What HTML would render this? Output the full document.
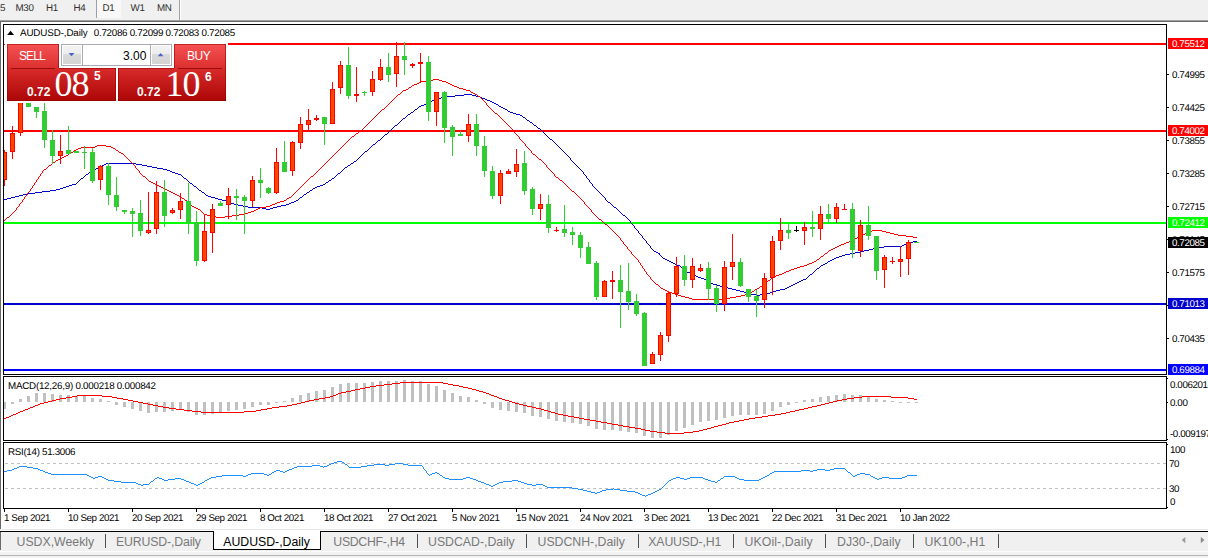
<!DOCTYPE html><html><head><meta charset="utf-8"><title>AUDUSD-,Daily</title><style>
html,body{margin:0;padding:0;}
body{width:1208px;height:558px;overflow:hidden;background:#f0f0f0;position:relative;font-family:"Liberation Sans",sans-serif;}
.t{position:absolute;white-space:nowrap;line-height:1;color:#000;}
.s{font-size:9.8px;letter-spacing:-0.4px;text-rendering:geometricPrecision;}
.tb{font-size:9.8px;letter-spacing:-0.3px;color:#303030;top:4.4px;text-rendering:geometricPrecision;}
.tab{font-size:12.3px;color:#787878;top:535.8px;}
.lab{position:absolute;left:1168px;width:40px;height:11px;color:#fff;font-size:9.8px;letter-spacing:-0.4px;text-rendering:geometricPrecision;line-height:11px;white-space:nowrap;overflow:hidden;}
.lab span{display:inline-block;margin-left:4px;position:relative;top:1px;}
.ax{left:1172px;}
</style></head><body>
<div style="position:absolute;left:97px;top:0;width:24px;height:18px;background:#f8f8f8"></div>
<div style="position:absolute;left:96px;top:0;width:1px;height:18px;background:#a0a0a0"></div>
<div style="position:absolute;left:179px;top:0;width:1px;height:20px;background:#a0a0a0"></div>
<div style="position:absolute;left:180px;top:0;width:1px;height:20px;background:#ffffff"></div>
<div class="t tb" style="left:0px">5</div>
<div class="t tb" style="left:15.5px">M30</div>
<div class="t tb" style="left:46px">H1</div>
<div class="t tb" style="left:73.5px">H4</div>
<div class="t tb" style="left:102.5px">D1</div>
<div class="t tb" style="left:130.5px">W1</div>
<div class="t tb" style="left:157px">MN</div>
<svg width="1208" height="558" viewBox="0 0 1208 558" style="position:absolute;left:0;top:0" shape-rendering="crispEdges">
<rect x="0" y="22" width="1208" height="508" fill="#ffffff" />
<rect x="0" y="20" width="1208" height="1" fill="#a0a0a0" />
<rect x="0" y="21" width="1208" height="1" fill="#696969" />
<rect x="0" y="22" width="1" height="507" fill="#696969" />
<rect x="4" y="43" width="1162" height="2" fill="#ff0000" />
<rect x="4" y="130" width="1162" height="2" fill="#ff0000" />
<rect x="4" y="222" width="1162" height="2" fill="#00ff00" />
<rect x="4" y="303" width="1162" height="2" fill="#0000cd" />
<rect x="4" y="369" width="1162" height="2" fill="#0000ff" />
<rect x="4" y="199" width="3" height="1" fill="#0000cd" />
<rect x="7" y="198" width="4" height="1" fill="#0000cd" />
<rect x="11" y="197" width="4" height="1" fill="#0000cd" />
<rect x="15" y="196" width="4" height="1" fill="#0000cd" />
<rect x="19" y="195" width="4" height="1" fill="#0000cd" />
<rect x="23" y="194" width="4" height="1" fill="#0000cd" />
<rect x="27" y="193" width="8" height="1" fill="#0000cd" />
<rect x="35" y="192" width="7" height="1" fill="#0000cd" />
<rect x="42" y="191" width="8" height="1" fill="#0000cd" />
<rect x="50" y="190" width="6" height="1" fill="#0000cd" />
<rect x="56" y="189" width="4" height="1" fill="#0000cd" />
<rect x="60" y="188" width="3" height="1" fill="#0000cd" />
<rect x="63" y="187" width="3" height="1" fill="#0000cd" />
<rect x="66" y="186" width="3" height="1" fill="#0000cd" />
<rect x="69" y="185" width="3" height="1" fill="#0000cd" />
<rect x="72" y="184" width="4" height="1" fill="#0000cd" />
<rect x="76" y="183" width="1" height="1" fill="#0000cd" />
<rect x="77" y="182" width="1" height="1" fill="#0000cd" />
<rect x="78" y="181" width="1" height="1" fill="#0000cd" />
<rect x="79" y="180" width="1" height="1" fill="#0000cd" />
<rect x="80" y="179" width="1" height="1" fill="#0000cd" />
<rect x="81" y="178" width="2" height="1" fill="#0000cd" />
<rect x="83" y="177" width="1" height="1" fill="#0000cd" />
<rect x="84" y="176" width="1" height="1" fill="#0000cd" />
<rect x="85" y="175" width="1" height="1" fill="#0000cd" />
<rect x="86" y="174" width="2" height="1" fill="#0000cd" />
<rect x="88" y="173" width="1" height="1" fill="#0000cd" />
<rect x="89" y="172" width="2" height="1" fill="#0000cd" />
<rect x="91" y="171" width="2" height="1" fill="#0000cd" />
<rect x="93" y="170" width="1" height="1" fill="#0000cd" />
<rect x="94" y="169" width="2" height="1" fill="#0000cd" />
<rect x="96" y="168" width="2" height="1" fill="#0000cd" />
<rect x="98" y="167" width="2" height="1" fill="#0000cd" />
<rect x="100" y="166" width="2" height="1" fill="#0000cd" />
<rect x="102" y="165" width="2" height="1" fill="#0000cd" />
<rect x="104" y="164" width="2" height="1" fill="#0000cd" />
<rect x="106" y="163" width="30" height="1" fill="#0000cd" />
<rect x="136" y="164" width="6" height="1" fill="#0000cd" />
<rect x="142" y="165" width="5" height="1" fill="#0000cd" />
<rect x="147" y="166" width="5" height="1" fill="#0000cd" />
<rect x="152" y="167" width="5" height="1" fill="#0000cd" />
<rect x="157" y="168" width="6" height="1" fill="#0000cd" />
<rect x="163" y="169" width="4" height="1" fill="#0000cd" />
<rect x="167" y="170" width="3" height="1" fill="#0000cd" />
<rect x="170" y="171" width="2" height="1" fill="#0000cd" />
<rect x="172" y="172" width="3" height="1" fill="#0000cd" />
<rect x="175" y="173" width="3" height="1" fill="#0000cd" />
<rect x="178" y="174" width="3" height="1" fill="#0000cd" />
<rect x="181" y="175" width="1" height="1" fill="#0000cd" />
<rect x="182" y="176" width="1" height="1" fill="#0000cd" />
<rect x="183" y="177" width="1" height="1" fill="#0000cd" />
<rect x="184" y="178" width="2" height="1" fill="#0000cd" />
<rect x="186" y="179" width="1" height="1" fill="#0000cd" />
<rect x="187" y="180" width="1" height="1" fill="#0000cd" />
<rect x="188" y="181" width="1" height="1" fill="#0000cd" />
<rect x="189" y="182" width="1" height="1" fill="#0000cd" />
<rect x="190" y="183" width="2" height="1" fill="#0000cd" />
<rect x="192" y="184" width="1" height="1" fill="#0000cd" />
<rect x="193" y="185" width="1" height="1" fill="#0000cd" />
<rect x="194" y="186" width="2" height="1" fill="#0000cd" />
<rect x="196" y="187" width="1" height="1" fill="#0000cd" />
<rect x="197" y="188" width="1" height="1" fill="#0000cd" />
<rect x="198" y="189" width="1" height="1" fill="#0000cd" />
<rect x="199" y="190" width="2" height="1" fill="#0000cd" />
<rect x="201" y="191" width="1" height="1" fill="#0000cd" />
<rect x="202" y="192" width="2" height="1" fill="#0000cd" />
<rect x="204" y="193" width="1" height="1" fill="#0000cd" />
<rect x="205" y="194" width="1" height="1" fill="#0000cd" />
<rect x="206" y="195" width="2" height="1" fill="#0000cd" />
<rect x="208" y="196" width="3" height="1" fill="#0000cd" />
<rect x="211" y="197" width="4" height="1" fill="#0000cd" />
<rect x="215" y="198" width="3" height="1" fill="#0000cd" />
<rect x="218" y="199" width="4" height="1" fill="#0000cd" />
<rect x="222" y="200" width="4" height="1" fill="#0000cd" />
<rect x="226" y="201" width="2" height="1" fill="#0000cd" />
<rect x="228" y="202" width="3" height="1" fill="#0000cd" />
<rect x="231" y="203" width="3" height="1" fill="#0000cd" />
<rect x="234" y="204" width="4" height="1" fill="#0000cd" />
<rect x="238" y="205" width="5" height="1" fill="#0000cd" />
<rect x="243" y="206" width="5" height="1" fill="#0000cd" />
<rect x="248" y="207" width="14" height="1" fill="#0000cd" />
<rect x="262" y="208" width="4" height="1" fill="#0000cd" />
<rect x="266" y="209" width="4" height="1" fill="#0000cd" />
<rect x="270" y="208" width="3" height="1" fill="#0000cd" />
<rect x="273" y="207" width="4" height="1" fill="#0000cd" />
<rect x="277" y="206" width="4" height="1" fill="#0000cd" />
<rect x="281" y="205" width="5" height="1" fill="#0000cd" />
<rect x="286" y="204" width="3" height="1" fill="#0000cd" />
<rect x="289" y="203" width="2" height="1" fill="#0000cd" />
<rect x="291" y="202" width="3" height="1" fill="#0000cd" />
<rect x="294" y="201" width="2" height="1" fill="#0000cd" />
<rect x="296" y="200" width="2" height="1" fill="#0000cd" />
<rect x="298" y="199" width="1" height="1" fill="#0000cd" />
<rect x="299" y="198" width="1" height="1" fill="#0000cd" />
<rect x="300" y="197" width="2" height="1" fill="#0000cd" />
<rect x="302" y="196" width="1" height="1" fill="#0000cd" />
<rect x="303" y="195" width="1" height="1" fill="#0000cd" />
<rect x="304" y="194" width="2" height="1" fill="#0000cd" />
<rect x="306" y="193" width="1" height="1" fill="#0000cd" />
<rect x="307" y="192" width="2" height="1" fill="#0000cd" />
<rect x="309" y="191" width="1" height="1" fill="#0000cd" />
<rect x="310" y="190" width="2" height="1" fill="#0000cd" />
<rect x="312" y="189" width="1" height="1" fill="#0000cd" />
<rect x="313" y="188" width="2" height="1" fill="#0000cd" />
<rect x="315" y="187" width="2" height="1" fill="#0000cd" />
<rect x="317" y="186" width="3" height="1" fill="#0000cd" />
<rect x="320" y="185" width="3" height="1" fill="#0000cd" />
<rect x="323" y="184" width="2" height="1" fill="#0000cd" />
<rect x="325" y="183" width="1" height="1" fill="#0000cd" />
<rect x="326" y="182" width="2" height="1" fill="#0000cd" />
<rect x="328" y="181" width="1" height="1" fill="#0000cd" />
<rect x="329" y="180" width="2" height="1" fill="#0000cd" />
<rect x="331" y="179" width="1" height="1" fill="#0000cd" />
<rect x="332" y="178" width="2" height="1" fill="#0000cd" />
<rect x="334" y="177" width="1" height="1" fill="#0000cd" />
<rect x="335" y="176" width="1" height="1" fill="#0000cd" />
<rect x="336" y="175" width="1" height="1" fill="#0000cd" />
<rect x="337" y="174" width="1" height="1" fill="#0000cd" />
<rect x="338" y="173" width="2" height="1" fill="#0000cd" />
<rect x="340" y="172" width="1" height="1" fill="#0000cd" />
<rect x="341" y="171" width="1" height="1" fill="#0000cd" />
<rect x="342" y="170" width="1" height="1" fill="#0000cd" />
<rect x="343" y="169" width="1" height="1" fill="#0000cd" />
<rect x="344" y="168" width="1" height="1" fill="#0000cd" />
<rect x="345" y="167" width="2" height="1" fill="#0000cd" />
<rect x="347" y="166" width="1" height="1" fill="#0000cd" />
<rect x="348" y="165" width="2" height="1" fill="#0000cd" />
<rect x="350" y="164" width="1" height="1" fill="#0000cd" />
<rect x="351" y="163" width="2" height="1" fill="#0000cd" />
<rect x="353" y="162" width="1" height="1" fill="#0000cd" />
<rect x="354" y="161" width="2" height="1" fill="#0000cd" />
<rect x="356" y="160" width="1" height="1" fill="#0000cd" />
<rect x="357" y="159" width="1" height="1" fill="#0000cd" />
<rect x="358" y="158" width="1" height="1" fill="#0000cd" />
<rect x="359" y="157" width="1" height="1" fill="#0000cd" />
<rect x="360" y="156" width="1" height="1" fill="#0000cd" />
<rect x="361" y="155" width="1" height="1" fill="#0000cd" />
<rect x="362" y="154" width="1" height="1" fill="#0000cd" />
<rect x="363" y="153" width="1" height="1" fill="#0000cd" />
<rect x="364" y="152" width="1" height="1" fill="#0000cd" />
<rect x="365" y="151" width="2" height="1" fill="#0000cd" />
<rect x="367" y="150" width="1" height="1" fill="#0000cd" />
<rect x="368" y="149" width="1" height="1" fill="#0000cd" />
<rect x="369" y="148" width="1" height="1" fill="#0000cd" />
<rect x="370" y="147" width="1" height="1" fill="#0000cd" />
<rect x="371" y="146" width="1" height="1" fill="#0000cd" />
<rect x="372" y="145" width="1" height="1" fill="#0000cd" />
<rect x="373" y="144" width="2" height="1" fill="#0000cd" />
<rect x="375" y="143" width="1" height="1" fill="#0000cd" />
<rect x="376" y="142" width="1" height="1" fill="#0000cd" />
<rect x="377" y="141" width="1" height="1" fill="#0000cd" />
<rect x="378" y="140" width="2" height="1" fill="#0000cd" />
<rect x="380" y="139" width="1" height="1" fill="#0000cd" />
<rect x="381" y="138" width="1" height="1" fill="#0000cd" />
<rect x="382" y="137" width="1" height="1" fill="#0000cd" />
<rect x="383" y="136" width="1" height="1" fill="#0000cd" />
<rect x="384" y="135" width="1" height="1" fill="#0000cd" />
<rect x="385" y="134" width="2" height="1" fill="#0000cd" />
<rect x="387" y="133" width="1" height="1" fill="#0000cd" />
<rect x="388" y="132" width="1" height="1" fill="#0000cd" />
<rect x="389" y="131" width="1" height="1" fill="#0000cd" />
<rect x="390" y="130" width="1" height="1" fill="#0000cd" />
<rect x="391" y="129" width="1" height="1" fill="#0000cd" />
<rect x="392" y="128" width="1" height="1" fill="#0000cd" />
<rect x="393" y="127" width="1" height="1" fill="#0000cd" />
<rect x="394" y="126" width="1" height="1" fill="#0000cd" />
<rect x="395" y="125" width="2" height="1" fill="#0000cd" />
<rect x="397" y="124" width="1" height="1" fill="#0000cd" />
<rect x="398" y="123" width="1" height="1" fill="#0000cd" />
<rect x="399" y="122" width="1" height="1" fill="#0000cd" />
<rect x="400" y="121" width="1" height="1" fill="#0000cd" />
<rect x="401" y="120" width="1" height="1" fill="#0000cd" />
<rect x="402" y="119" width="1" height="1" fill="#0000cd" />
<rect x="403" y="118" width="2" height="1" fill="#0000cd" />
<rect x="405" y="117" width="1" height="1" fill="#0000cd" />
<rect x="406" y="116" width="1" height="1" fill="#0000cd" />
<rect x="407" y="115" width="1" height="1" fill="#0000cd" />
<rect x="408" y="114" width="2" height="1" fill="#0000cd" />
<rect x="410" y="113" width="1" height="1" fill="#0000cd" />
<rect x="411" y="112" width="2" height="1" fill="#0000cd" />
<rect x="413" y="111" width="1" height="1" fill="#0000cd" />
<rect x="414" y="110" width="1" height="1" fill="#0000cd" />
<rect x="415" y="109" width="2" height="1" fill="#0000cd" />
<rect x="417" y="108" width="1" height="1" fill="#0000cd" />
<rect x="418" y="107" width="1" height="1" fill="#0000cd" />
<rect x="419" y="106" width="2" height="1" fill="#0000cd" />
<rect x="421" y="105" width="3" height="1" fill="#0000cd" />
<rect x="424" y="104" width="2" height="1" fill="#0000cd" />
<rect x="426" y="103" width="2" height="1" fill="#0000cd" />
<rect x="428" y="102" width="2" height="1" fill="#0000cd" />
<rect x="430" y="101" width="2" height="1" fill="#0000cd" />
<rect x="432" y="100" width="3" height="1" fill="#0000cd" />
<rect x="435" y="99" width="3" height="1" fill="#0000cd" />
<rect x="438" y="98" width="3" height="1" fill="#0000cd" />
<rect x="441" y="97" width="4" height="1" fill="#0000cd" />
<rect x="445" y="96" width="10" height="1" fill="#0000cd" />
<rect x="455" y="95" width="9" height="1" fill="#0000cd" />
<rect x="464" y="94" width="8" height="1" fill="#0000cd" />
<rect x="472" y="95" width="4" height="1" fill="#0000cd" />
<rect x="476" y="96" width="4" height="1" fill="#0000cd" />
<rect x="480" y="97" width="2" height="1" fill="#0000cd" />
<rect x="482" y="98" width="3" height="1" fill="#0000cd" />
<rect x="485" y="99" width="2" height="1" fill="#0000cd" />
<rect x="487" y="100" width="3" height="1" fill="#0000cd" />
<rect x="490" y="101" width="2" height="1" fill="#0000cd" />
<rect x="492" y="102" width="2" height="1" fill="#0000cd" />
<rect x="494" y="103" width="2" height="1" fill="#0000cd" />
<rect x="496" y="104" width="2" height="1" fill="#0000cd" />
<rect x="498" y="105" width="1" height="1" fill="#0000cd" />
<rect x="499" y="106" width="2" height="1" fill="#0000cd" />
<rect x="501" y="107" width="2" height="1" fill="#0000cd" />
<rect x="503" y="108" width="2" height="1" fill="#0000cd" />
<rect x="505" y="109" width="2" height="1" fill="#0000cd" />
<rect x="507" y="110" width="1" height="1" fill="#0000cd" />
<rect x="508" y="111" width="2" height="1" fill="#0000cd" />
<rect x="510" y="112" width="3" height="1" fill="#0000cd" />
<rect x="513" y="113" width="3" height="1" fill="#0000cd" />
<rect x="516" y="114" width="4" height="1" fill="#0000cd" />
<rect x="520" y="115" width="2" height="1" fill="#0000cd" />
<rect x="522" y="116" width="1" height="1" fill="#0000cd" />
<rect x="523" y="117" width="2" height="1" fill="#0000cd" />
<rect x="525" y="118" width="1" height="1" fill="#0000cd" />
<rect x="526" y="119" width="1" height="1" fill="#0000cd" />
<rect x="527" y="120" width="2" height="1" fill="#0000cd" />
<rect x="529" y="121" width="1" height="1" fill="#0000cd" />
<rect x="530" y="122" width="2" height="1" fill="#0000cd" />
<rect x="532" y="123" width="1" height="1" fill="#0000cd" />
<rect x="533" y="124" width="1" height="1" fill="#0000cd" />
<rect x="534" y="125" width="2" height="1" fill="#0000cd" />
<rect x="536" y="126" width="1" height="1" fill="#0000cd" />
<rect x="537" y="127" width="1" height="1" fill="#0000cd" />
<rect x="538" y="128" width="2" height="1" fill="#0000cd" />
<rect x="540" y="129" width="1" height="1" fill="#0000cd" />
<rect x="541" y="130" width="1" height="1" fill="#0000cd" />
<rect x="542" y="131" width="1" height="1" fill="#0000cd" />
<rect x="543" y="132" width="1" height="1" fill="#0000cd" />
<rect x="544" y="133" width="1" height="1" fill="#0000cd" />
<rect x="545" y="134" width="1" height="1" fill="#0000cd" />
<rect x="546" y="135" width="1" height="1" fill="#0000cd" />
<rect x="547" y="136" width="1" height="1" fill="#0000cd" />
<rect x="548" y="137" width="1" height="1" fill="#0000cd" />
<rect x="549" y="138" width="1" height="1" fill="#0000cd" />
<rect x="550" y="139" width="2" height="1" fill="#0000cd" />
<rect x="552" y="140" width="1" height="1" fill="#0000cd" />
<rect x="553" y="141" width="1" height="1" fill="#0000cd" />
<rect x="554" y="142" width="1" height="1" fill="#0000cd" />
<rect x="555" y="143" width="1" height="1" fill="#0000cd" />
<rect x="556" y="144" width="1" height="1" fill="#0000cd" />
<rect x="557" y="145" width="1" height="1" fill="#0000cd" />
<rect x="558" y="146" width="1" height="1" fill="#0000cd" />
<rect x="559" y="147" width="1" height="1" fill="#0000cd" />
<rect x="560" y="148" width="1" height="1" fill="#0000cd" />
<rect x="561" y="149" width="1" height="1" fill="#0000cd" />
<rect x="562" y="150" width="1" height="1" fill="#0000cd" />
<rect x="563" y="151" width="1" height="1" fill="#0000cd" />
<rect x="564" y="152" width="1" height="1" fill="#0000cd" />
<rect x="565" y="153" width="1" height="1" fill="#0000cd" />
<rect x="566" y="154" width="1" height="1" fill="#0000cd" />
<rect x="567" y="155" width="1" height="1" fill="#0000cd" />
<rect x="568" y="156" width="1" height="1" fill="#0000cd" />
<rect x="569" y="157" width="1" height="1" fill="#0000cd" />
<rect x="570" y="158" width="1" height="1" fill="#0000cd" />
<rect x="570" y="158" width="1" height="2" fill="#0000cd" />
<rect x="571" y="160" width="1" height="1" fill="#0000cd" />
<rect x="571" y="160" width="1" height="1" fill="#0000cd" />
<rect x="572" y="161" width="1" height="1" fill="#0000cd" />
<rect x="573" y="162" width="1" height="1" fill="#0000cd" />
<rect x="574" y="163" width="1" height="1" fill="#0000cd" />
<rect x="575" y="164" width="1" height="1" fill="#0000cd" />
<rect x="576" y="165" width="1" height="1" fill="#0000cd" />
<rect x="577" y="166" width="1" height="1" fill="#0000cd" />
<rect x="578" y="167" width="1" height="1" fill="#0000cd" />
<rect x="579" y="168" width="1" height="1" fill="#0000cd" />
<rect x="580" y="169" width="1" height="1" fill="#0000cd" />
<rect x="581" y="170" width="1" height="1" fill="#0000cd" />
<rect x="582" y="171" width="1" height="1" fill="#0000cd" />
<rect x="583" y="172" width="1" height="1" fill="#0000cd" />
<rect x="583" y="172" width="1" height="2" fill="#0000cd" />
<rect x="584" y="174" width="1" height="1" fill="#0000cd" />
<rect x="584" y="174" width="1" height="1" fill="#0000cd" />
<rect x="585" y="175" width="1" height="1" fill="#0000cd" />
<rect x="586" y="176" width="1" height="1" fill="#0000cd" />
<rect x="586" y="176" width="1" height="2" fill="#0000cd" />
<rect x="587" y="178" width="1" height="1" fill="#0000cd" />
<rect x="587" y="178" width="1" height="1" fill="#0000cd" />
<rect x="588" y="179" width="1" height="1" fill="#0000cd" />
<rect x="589" y="180" width="1" height="1" fill="#0000cd" />
<rect x="589" y="180" width="1" height="2" fill="#0000cd" />
<rect x="590" y="182" width="1" height="1" fill="#0000cd" />
<rect x="590" y="182" width="1" height="1" fill="#0000cd" />
<rect x="591" y="183" width="1" height="1" fill="#0000cd" />
<rect x="592" y="184" width="1" height="1" fill="#0000cd" />
<rect x="592" y="184" width="1" height="2" fill="#0000cd" />
<rect x="593" y="186" width="1" height="1" fill="#0000cd" />
<rect x="593" y="186" width="1" height="1" fill="#0000cd" />
<rect x="594" y="187" width="1" height="1" fill="#0000cd" />
<rect x="595" y="188" width="1" height="1" fill="#0000cd" />
<rect x="596" y="189" width="1" height="1" fill="#0000cd" />
<rect x="597" y="190" width="1" height="1" fill="#0000cd" />
<rect x="598" y="191" width="1" height="1" fill="#0000cd" />
<rect x="599" y="192" width="1" height="1" fill="#0000cd" />
<rect x="600" y="193" width="1" height="1" fill="#0000cd" />
<rect x="601" y="194" width="1" height="1" fill="#0000cd" />
<rect x="602" y="195" width="1" height="1" fill="#0000cd" />
<rect x="603" y="196" width="1" height="1" fill="#0000cd" />
<rect x="604" y="197" width="1" height="1" fill="#0000cd" />
<rect x="605" y="198" width="1" height="1" fill="#0000cd" />
<rect x="605" y="198" width="1" height="2" fill="#0000cd" />
<rect x="606" y="200" width="1" height="1" fill="#0000cd" />
<rect x="606" y="200" width="1" height="1" fill="#0000cd" />
<rect x="607" y="201" width="1" height="1" fill="#0000cd" />
<rect x="608" y="202" width="2" height="1" fill="#0000cd" />
<rect x="610" y="203" width="1" height="1" fill="#0000cd" />
<rect x="611" y="204" width="1" height="1" fill="#0000cd" />
<rect x="612" y="205" width="1" height="1" fill="#0000cd" />
<rect x="613" y="206" width="1" height="1" fill="#0000cd" />
<rect x="614" y="207" width="2" height="1" fill="#0000cd" />
<rect x="616" y="208" width="1" height="1" fill="#0000cd" />
<rect x="617" y="209" width="1" height="1" fill="#0000cd" />
<rect x="618" y="210" width="1" height="1" fill="#0000cd" />
<rect x="619" y="211" width="1" height="1" fill="#0000cd" />
<rect x="620" y="212" width="1" height="1" fill="#0000cd" />
<rect x="621" y="213" width="1" height="1" fill="#0000cd" />
<rect x="622" y="214" width="1" height="1" fill="#0000cd" />
<rect x="623" y="215" width="2" height="1" fill="#0000cd" />
<rect x="625" y="216" width="1" height="1" fill="#0000cd" />
<rect x="626" y="217" width="1" height="1" fill="#0000cd" />
<rect x="627" y="218" width="1" height="1" fill="#0000cd" />
<rect x="628" y="219" width="1" height="1" fill="#0000cd" />
<rect x="629" y="220" width="1" height="1" fill="#0000cd" />
<rect x="630" y="221" width="1" height="1" fill="#0000cd" />
<rect x="630" y="221" width="1" height="2" fill="#0000cd" />
<rect x="631" y="223" width="1" height="1" fill="#0000cd" />
<rect x="631" y="223" width="1" height="1" fill="#0000cd" />
<rect x="632" y="224" width="1" height="1" fill="#0000cd" />
<rect x="633" y="225" width="1" height="1" fill="#0000cd" />
<rect x="634" y="226" width="1" height="1" fill="#0000cd" />
<rect x="634" y="226" width="1" height="2" fill="#0000cd" />
<rect x="635" y="228" width="1" height="1" fill="#0000cd" />
<rect x="635" y="228" width="1" height="1" fill="#0000cd" />
<rect x="636" y="229" width="1" height="1" fill="#0000cd" />
<rect x="637" y="230" width="1" height="1" fill="#0000cd" />
<rect x="638" y="231" width="1" height="1" fill="#0000cd" />
<rect x="638" y="231" width="1" height="2" fill="#0000cd" />
<rect x="639" y="233" width="1" height="1" fill="#0000cd" />
<rect x="639" y="233" width="1" height="1" fill="#0000cd" />
<rect x="640" y="234" width="1" height="1" fill="#0000cd" />
<rect x="641" y="235" width="1" height="1" fill="#0000cd" />
<rect x="642" y="236" width="1" height="1" fill="#0000cd" />
<rect x="642" y="236" width="1" height="2" fill="#0000cd" />
<rect x="643" y="238" width="1" height="1" fill="#0000cd" />
<rect x="643" y="238" width="1" height="1" fill="#0000cd" />
<rect x="644" y="239" width="1" height="1" fill="#0000cd" />
<rect x="645" y="240" width="1" height="1" fill="#0000cd" />
<rect x="646" y="241" width="1" height="1" fill="#0000cd" />
<rect x="646" y="241" width="1" height="2" fill="#0000cd" />
<rect x="647" y="243" width="1" height="1" fill="#0000cd" />
<rect x="647" y="243" width="1" height="1" fill="#0000cd" />
<rect x="648" y="244" width="1" height="1" fill="#0000cd" />
<rect x="649" y="245" width="1" height="1" fill="#0000cd" />
<rect x="650" y="246" width="1" height="1" fill="#0000cd" />
<rect x="650" y="246" width="1" height="2" fill="#0000cd" />
<rect x="651" y="248" width="1" height="1" fill="#0000cd" />
<rect x="651" y="248" width="1" height="1" fill="#0000cd" />
<rect x="652" y="249" width="1" height="1" fill="#0000cd" />
<rect x="653" y="250" width="1" height="1" fill="#0000cd" />
<rect x="654" y="251" width="2" height="1" fill="#0000cd" />
<rect x="656" y="252" width="2" height="1" fill="#0000cd" />
<rect x="658" y="253" width="2" height="1" fill="#0000cd" />
<rect x="659" y="253" width="1" height="2" fill="#0000cd" />
<rect x="660" y="255" width="1" height="1" fill="#0000cd" />
<rect x="660" y="255" width="1" height="1" fill="#0000cd" />
<rect x="661" y="256" width="1" height="1" fill="#0000cd" />
<rect x="662" y="257" width="1" height="1" fill="#0000cd" />
<rect x="663" y="258" width="2" height="1" fill="#0000cd" />
<rect x="665" y="259" width="2" height="1" fill="#0000cd" />
<rect x="667" y="260" width="2" height="1" fill="#0000cd" />
<rect x="669" y="261" width="2" height="1" fill="#0000cd" />
<rect x="671" y="262" width="2" height="1" fill="#0000cd" />
<rect x="673" y="263" width="2" height="1" fill="#0000cd" />
<rect x="675" y="264" width="2" height="1" fill="#0000cd" />
<rect x="677" y="265" width="3" height="1" fill="#0000cd" />
<rect x="680" y="266" width="1" height="1" fill="#0000cd" />
<rect x="681" y="267" width="2" height="1" fill="#0000cd" />
<rect x="683" y="268" width="1" height="1" fill="#0000cd" />
<rect x="684" y="269" width="1" height="1" fill="#0000cd" />
<rect x="685" y="270" width="1" height="1" fill="#0000cd" />
<rect x="686" y="271" width="1" height="1" fill="#0000cd" />
<rect x="687" y="272" width="3" height="1" fill="#0000cd" />
<rect x="690" y="273" width="2" height="1" fill="#0000cd" />
<rect x="692" y="274" width="2" height="1" fill="#0000cd" />
<rect x="694" y="275" width="2" height="1" fill="#0000cd" />
<rect x="696" y="276" width="2" height="1" fill="#0000cd" />
<rect x="698" y="277" width="3" height="1" fill="#0000cd" />
<rect x="701" y="278" width="3" height="1" fill="#0000cd" />
<rect x="704" y="279" width="3" height="1" fill="#0000cd" />
<rect x="707" y="280" width="1" height="1" fill="#0000cd" />
<rect x="708" y="281" width="2" height="1" fill="#0000cd" />
<rect x="710" y="282" width="1" height="1" fill="#0000cd" />
<rect x="711" y="283" width="2" height="1" fill="#0000cd" />
<rect x="713" y="284" width="4" height="1" fill="#0000cd" />
<rect x="717" y="285" width="3" height="1" fill="#0000cd" />
<rect x="720" y="286" width="4" height="1" fill="#0000cd" />
<rect x="724" y="287" width="4" height="1" fill="#0000cd" />
<rect x="728" y="288" width="4" height="1" fill="#0000cd" />
<rect x="732" y="289" width="4" height="1" fill="#0000cd" />
<rect x="736" y="290" width="4" height="1" fill="#0000cd" />
<rect x="740" y="291" width="4" height="1" fill="#0000cd" />
<rect x="744" y="292" width="3" height="1" fill="#0000cd" />
<rect x="747" y="293" width="4" height="1" fill="#0000cd" />
<rect x="751" y="294" width="6" height="1" fill="#0000cd" />
<rect x="757" y="295" width="3" height="1" fill="#0000cd" />
<rect x="760" y="294" width="5" height="1" fill="#0000cd" />
<rect x="765" y="293" width="5" height="1" fill="#0000cd" />
<rect x="770" y="292" width="3" height="1" fill="#0000cd" />
<rect x="773" y="291" width="3" height="1" fill="#0000cd" />
<rect x="776" y="290" width="4" height="1" fill="#0000cd" />
<rect x="780" y="289" width="5" height="1" fill="#0000cd" />
<rect x="785" y="288" width="2" height="1" fill="#0000cd" />
<rect x="787" y="287" width="2" height="1" fill="#0000cd" />
<rect x="789" y="286" width="2" height="1" fill="#0000cd" />
<rect x="791" y="285" width="2" height="1" fill="#0000cd" />
<rect x="793" y="284" width="2" height="1" fill="#0000cd" />
<rect x="795" y="283" width="2" height="1" fill="#0000cd" />
<rect x="797" y="282" width="2" height="1" fill="#0000cd" />
<rect x="799" y="281" width="2" height="1" fill="#0000cd" />
<rect x="801" y="280" width="2" height="1" fill="#0000cd" />
<rect x="803" y="279" width="3" height="1" fill="#0000cd" />
<rect x="806" y="278" width="1" height="1" fill="#0000cd" />
<rect x="807" y="277" width="1" height="1" fill="#0000cd" />
<rect x="808" y="276" width="1" height="1" fill="#0000cd" />
<rect x="809" y="275" width="1" height="1" fill="#0000cd" />
<rect x="810" y="274" width="2" height="1" fill="#0000cd" />
<rect x="812" y="273" width="1" height="1" fill="#0000cd" />
<rect x="813" y="272" width="1" height="1" fill="#0000cd" />
<rect x="814" y="271" width="1" height="1" fill="#0000cd" />
<rect x="815" y="270" width="1" height="1" fill="#0000cd" />
<rect x="816" y="269" width="1" height="1" fill="#0000cd" />
<rect x="817" y="268" width="2" height="1" fill="#0000cd" />
<rect x="819" y="267" width="1" height="1" fill="#0000cd" />
<rect x="820" y="266" width="1" height="1" fill="#0000cd" />
<rect x="821" y="265" width="2" height="1" fill="#0000cd" />
<rect x="823" y="264" width="2" height="1" fill="#0000cd" />
<rect x="825" y="263" width="2" height="1" fill="#0000cd" />
<rect x="827" y="262" width="1" height="1" fill="#0000cd" />
<rect x="828" y="261" width="2" height="1" fill="#0000cd" />
<rect x="830" y="260" width="2" height="1" fill="#0000cd" />
<rect x="832" y="259" width="2" height="1" fill="#0000cd" />
<rect x="834" y="258" width="2" height="1" fill="#0000cd" />
<rect x="836" y="257" width="3" height="1" fill="#0000cd" />
<rect x="839" y="256" width="3" height="1" fill="#0000cd" />
<rect x="842" y="255" width="3" height="1" fill="#0000cd" />
<rect x="845" y="254" width="5" height="1" fill="#0000cd" />
<rect x="850" y="253" width="5" height="1" fill="#0000cd" />
<rect x="855" y="252" width="5" height="1" fill="#0000cd" />
<rect x="860" y="251" width="4" height="1" fill="#0000cd" />
<rect x="864" y="250" width="5" height="1" fill="#0000cd" />
<rect x="869" y="249" width="4" height="1" fill="#0000cd" />
<rect x="873" y="248" width="4" height="1" fill="#0000cd" />
<rect x="877" y="247" width="7" height="1" fill="#0000cd" />
<rect x="884" y="246" width="18" height="1" fill="#0000cd" />
<rect x="902" y="245" width="2" height="1" fill="#0000cd" />
<rect x="904" y="244" width="2" height="1" fill="#0000cd" />
<rect x="906" y="243" width="2" height="1" fill="#0000cd" />
<rect x="908" y="242" width="5" height="1" fill="#0000cd" />
<rect x="913" y="241" width="4" height="1" fill="#0000cd" />
<rect x="4" y="220" width="1" height="1" fill="#ff0000" />
<rect x="5" y="219" width="1" height="1" fill="#ff0000" />
<rect x="6" y="218" width="1" height="1" fill="#ff0000" />
<rect x="7" y="217" width="2" height="1" fill="#ff0000" />
<rect x="9" y="216" width="1" height="1" fill="#ff0000" />
<rect x="10" y="215" width="1" height="1" fill="#ff0000" />
<rect x="11" y="214" width="1" height="1" fill="#ff0000" />
<rect x="12" y="213" width="1" height="1" fill="#ff0000" />
<rect x="13" y="212" width="1" height="1" fill="#ff0000" />
<rect x="14" y="211" width="1" height="1" fill="#ff0000" />
<rect x="15" y="210" width="1" height="1" fill="#ff0000" />
<rect x="15" y="210" width="1" height="1" fill="#ff0000" />
<rect x="16" y="208" width="1" height="2" fill="#ff0000" />
<rect x="16" y="208" width="1" height="1" fill="#ff0000" />
<rect x="17" y="207" width="1" height="1" fill="#ff0000" />
<rect x="18" y="206" width="1" height="1" fill="#ff0000" />
<rect x="18" y="206" width="1" height="1" fill="#ff0000" />
<rect x="19" y="204" width="1" height="2" fill="#ff0000" />
<rect x="19" y="204" width="1" height="1" fill="#ff0000" />
<rect x="20" y="203" width="1" height="1" fill="#ff0000" />
<rect x="21" y="202" width="1" height="1" fill="#ff0000" />
<rect x="21" y="202" width="1" height="1" fill="#ff0000" />
<rect x="22" y="200" width="1" height="2" fill="#ff0000" />
<rect x="22" y="200" width="1" height="1" fill="#ff0000" />
<rect x="23" y="199" width="1" height="1" fill="#ff0000" />
<rect x="23" y="199" width="1" height="1" fill="#ff0000" />
<rect x="24" y="197" width="1" height="2" fill="#ff0000" />
<rect x="24" y="197" width="1" height="1" fill="#ff0000" />
<rect x="25" y="196" width="1" height="1" fill="#ff0000" />
<rect x="26" y="195" width="1" height="1" fill="#ff0000" />
<rect x="26" y="195" width="1" height="1" fill="#ff0000" />
<rect x="27" y="193" width="1" height="2" fill="#ff0000" />
<rect x="27" y="193" width="1" height="1" fill="#ff0000" />
<rect x="28" y="192" width="1" height="1" fill="#ff0000" />
<rect x="29" y="191" width="1" height="1" fill="#ff0000" />
<rect x="29" y="191" width="1" height="1" fill="#ff0000" />
<rect x="30" y="189" width="1" height="2" fill="#ff0000" />
<rect x="30" y="189" width="1" height="1" fill="#ff0000" />
<rect x="31" y="188" width="1" height="1" fill="#ff0000" />
<rect x="31" y="188" width="1" height="1" fill="#ff0000" />
<rect x="32" y="186" width="1" height="2" fill="#ff0000" />
<rect x="32" y="186" width="1" height="1" fill="#ff0000" />
<rect x="33" y="185" width="1" height="1" fill="#ff0000" />
<rect x="33" y="185" width="1" height="1" fill="#ff0000" />
<rect x="34" y="183" width="1" height="2" fill="#ff0000" />
<rect x="34" y="183" width="1" height="1" fill="#ff0000" />
<rect x="35" y="182" width="1" height="1" fill="#ff0000" />
<rect x="35" y="182" width="1" height="1" fill="#ff0000" />
<rect x="36" y="180" width="1" height="2" fill="#ff0000" />
<rect x="36" y="180" width="1" height="1" fill="#ff0000" />
<rect x="37" y="179" width="1" height="1" fill="#ff0000" />
<rect x="37" y="179" width="1" height="1" fill="#ff0000" />
<rect x="38" y="177" width="1" height="2" fill="#ff0000" />
<rect x="38" y="177" width="1" height="1" fill="#ff0000" />
<rect x="39" y="176" width="1" height="1" fill="#ff0000" />
<rect x="39" y="176" width="1" height="1" fill="#ff0000" />
<rect x="40" y="174" width="1" height="2" fill="#ff0000" />
<rect x="40" y="174" width="1" height="1" fill="#ff0000" />
<rect x="41" y="173" width="1" height="1" fill="#ff0000" />
<rect x="41" y="173" width="1" height="1" fill="#ff0000" />
<rect x="42" y="171" width="1" height="2" fill="#ff0000" />
<rect x="42" y="171" width="1" height="1" fill="#ff0000" />
<rect x="43" y="170" width="1" height="1" fill="#ff0000" />
<rect x="44" y="169" width="2" height="1" fill="#ff0000" />
<rect x="46" y="168" width="1" height="1" fill="#ff0000" />
<rect x="47" y="167" width="1" height="1" fill="#ff0000" />
<rect x="48" y="166" width="1" height="1" fill="#ff0000" />
<rect x="49" y="165" width="2" height="1" fill="#ff0000" />
<rect x="51" y="164" width="1" height="1" fill="#ff0000" />
<rect x="52" y="163" width="1" height="1" fill="#ff0000" />
<rect x="53" y="162" width="2" height="1" fill="#ff0000" />
<rect x="55" y="161" width="1" height="1" fill="#ff0000" />
<rect x="56" y="160" width="2" height="1" fill="#ff0000" />
<rect x="58" y="159" width="2" height="1" fill="#ff0000" />
<rect x="60" y="158" width="2" height="1" fill="#ff0000" />
<rect x="62" y="157" width="2" height="1" fill="#ff0000" />
<rect x="64" y="156" width="2" height="1" fill="#ff0000" />
<rect x="66" y="155" width="2" height="1" fill="#ff0000" />
<rect x="68" y="154" width="1" height="1" fill="#ff0000" />
<rect x="69" y="153" width="2" height="1" fill="#ff0000" />
<rect x="71" y="152" width="2" height="1" fill="#ff0000" />
<rect x="73" y="151" width="1" height="1" fill="#ff0000" />
<rect x="74" y="150" width="2" height="1" fill="#ff0000" />
<rect x="76" y="149" width="2" height="1" fill="#ff0000" />
<rect x="78" y="148" width="3" height="1" fill="#ff0000" />
<rect x="81" y="147" width="14" height="1" fill="#ff0000" />
<rect x="95" y="146" width="2" height="1" fill="#ff0000" />
<rect x="97" y="145" width="9" height="1" fill="#ff0000" />
<rect x="106" y="146" width="5" height="1" fill="#ff0000" />
<rect x="111" y="147" width="2" height="1" fill="#ff0000" />
<rect x="113" y="148" width="2" height="1" fill="#ff0000" />
<rect x="115" y="149" width="1" height="1" fill="#ff0000" />
<rect x="116" y="150" width="2" height="1" fill="#ff0000" />
<rect x="118" y="151" width="1" height="1" fill="#ff0000" />
<rect x="119" y="152" width="2" height="1" fill="#ff0000" />
<rect x="121" y="153" width="2" height="1" fill="#ff0000" />
<rect x="123" y="154" width="1" height="1" fill="#ff0000" />
<rect x="124" y="155" width="1" height="1" fill="#ff0000" />
<rect x="125" y="156" width="1" height="1" fill="#ff0000" />
<rect x="126" y="157" width="1" height="1" fill="#ff0000" />
<rect x="127" y="158" width="1" height="1" fill="#ff0000" />
<rect x="128" y="159" width="1" height="1" fill="#ff0000" />
<rect x="129" y="160" width="1" height="1" fill="#ff0000" />
<rect x="130" y="161" width="1" height="1" fill="#ff0000" />
<rect x="131" y="162" width="1" height="1" fill="#ff0000" />
<rect x="132" y="163" width="1" height="1" fill="#ff0000" />
<rect x="133" y="164" width="1" height="1" fill="#ff0000" />
<rect x="134" y="165" width="1" height="1" fill="#ff0000" />
<rect x="135" y="166" width="1" height="1" fill="#ff0000" />
<rect x="135" y="166" width="1" height="2" fill="#ff0000" />
<rect x="136" y="168" width="1" height="1" fill="#ff0000" />
<rect x="136" y="168" width="1" height="1" fill="#ff0000" />
<rect x="137" y="169" width="1" height="1" fill="#ff0000" />
<rect x="138" y="170" width="1" height="1" fill="#ff0000" />
<rect x="139" y="171" width="1" height="1" fill="#ff0000" />
<rect x="139" y="171" width="1" height="2" fill="#ff0000" />
<rect x="140" y="173" width="1" height="1" fill="#ff0000" />
<rect x="140" y="173" width="1" height="1" fill="#ff0000" />
<rect x="141" y="174" width="1" height="1" fill="#ff0000" />
<rect x="142" y="175" width="1" height="1" fill="#ff0000" />
<rect x="143" y="176" width="2" height="1" fill="#ff0000" />
<rect x="145" y="177" width="1" height="1" fill="#ff0000" />
<rect x="146" y="178" width="1" height="1" fill="#ff0000" />
<rect x="147" y="179" width="1" height="1" fill="#ff0000" />
<rect x="148" y="180" width="1" height="1" fill="#ff0000" />
<rect x="149" y="181" width="2" height="1" fill="#ff0000" />
<rect x="151" y="182" width="2" height="1" fill="#ff0000" />
<rect x="153" y="183" width="2" height="1" fill="#ff0000" />
<rect x="155" y="184" width="2" height="1" fill="#ff0000" />
<rect x="157" y="185" width="2" height="1" fill="#ff0000" />
<rect x="159" y="186" width="2" height="1" fill="#ff0000" />
<rect x="161" y="187" width="2" height="1" fill="#ff0000" />
<rect x="163" y="188" width="2" height="1" fill="#ff0000" />
<rect x="165" y="189" width="2" height="1" fill="#ff0000" />
<rect x="167" y="190" width="2" height="1" fill="#ff0000" />
<rect x="169" y="191" width="2" height="1" fill="#ff0000" />
<rect x="171" y="192" width="2" height="1" fill="#ff0000" />
<rect x="173" y="193" width="2" height="1" fill="#ff0000" />
<rect x="175" y="194" width="2" height="1" fill="#ff0000" />
<rect x="177" y="195" width="2" height="1" fill="#ff0000" />
<rect x="179" y="196" width="2" height="1" fill="#ff0000" />
<rect x="181" y="197" width="1" height="1" fill="#ff0000" />
<rect x="182" y="198" width="2" height="1" fill="#ff0000" />
<rect x="184" y="199" width="1" height="1" fill="#ff0000" />
<rect x="185" y="200" width="2" height="1" fill="#ff0000" />
<rect x="187" y="201" width="1" height="1" fill="#ff0000" />
<rect x="188" y="202" width="1" height="1" fill="#ff0000" />
<rect x="189" y="203" width="1" height="1" fill="#ff0000" />
<rect x="190" y="204" width="1" height="1" fill="#ff0000" />
<rect x="191" y="205" width="1" height="1" fill="#ff0000" />
<rect x="192" y="206" width="2" height="1" fill="#ff0000" />
<rect x="194" y="207" width="2" height="1" fill="#ff0000" />
<rect x="196" y="208" width="2" height="1" fill="#ff0000" />
<rect x="198" y="209" width="2" height="1" fill="#ff0000" />
<rect x="200" y="210" width="1" height="1" fill="#ff0000" />
<rect x="201" y="211" width="1" height="1" fill="#ff0000" />
<rect x="202" y="212" width="1" height="1" fill="#ff0000" />
<rect x="203" y="213" width="1" height="1" fill="#ff0000" />
<rect x="204" y="214" width="3" height="1" fill="#ff0000" />
<rect x="207" y="215" width="4" height="1" fill="#ff0000" />
<rect x="211" y="216" width="5" height="1" fill="#ff0000" />
<rect x="216" y="217" width="9" height="1" fill="#ff0000" />
<rect x="225" y="216" width="7" height="1" fill="#ff0000" />
<rect x="232" y="215" width="7" height="1" fill="#ff0000" />
<rect x="239" y="214" width="6" height="1" fill="#ff0000" />
<rect x="245" y="213" width="3" height="1" fill="#ff0000" />
<rect x="248" y="212" width="3" height="1" fill="#ff0000" />
<rect x="251" y="211" width="3" height="1" fill="#ff0000" />
<rect x="254" y="210" width="2" height="1" fill="#ff0000" />
<rect x="256" y="209" width="2" height="1" fill="#ff0000" />
<rect x="258" y="208" width="2" height="1" fill="#ff0000" />
<rect x="260" y="207" width="6" height="1" fill="#ff0000" />
<rect x="266" y="206" width="4" height="1" fill="#ff0000" />
<rect x="270" y="205" width="2" height="1" fill="#ff0000" />
<rect x="272" y="204" width="3" height="1" fill="#ff0000" />
<rect x="275" y="203" width="2" height="1" fill="#ff0000" />
<rect x="277" y="202" width="3" height="1" fill="#ff0000" />
<rect x="280" y="201" width="4" height="1" fill="#ff0000" />
<rect x="284" y="200" width="2" height="1" fill="#ff0000" />
<rect x="286" y="199" width="1" height="1" fill="#ff0000" />
<rect x="287" y="198" width="2" height="1" fill="#ff0000" />
<rect x="289" y="197" width="2" height="1" fill="#ff0000" />
<rect x="291" y="196" width="1" height="1" fill="#ff0000" />
<rect x="292" y="195" width="1" height="1" fill="#ff0000" />
<rect x="293" y="194" width="1" height="1" fill="#ff0000" />
<rect x="294" y="193" width="1" height="1" fill="#ff0000" />
<rect x="295" y="192" width="1" height="1" fill="#ff0000" />
<rect x="296" y="191" width="1" height="1" fill="#ff0000" />
<rect x="297" y="190" width="1" height="1" fill="#ff0000" />
<rect x="298" y="189" width="1" height="1" fill="#ff0000" />
<rect x="299" y="188" width="1" height="1" fill="#ff0000" />
<rect x="300" y="187" width="1" height="1" fill="#ff0000" />
<rect x="301" y="186" width="1" height="1" fill="#ff0000" />
<rect x="302" y="185" width="1" height="1" fill="#ff0000" />
<rect x="303" y="184" width="1" height="1" fill="#ff0000" />
<rect x="304" y="183" width="1" height="1" fill="#ff0000" />
<rect x="305" y="182" width="1" height="1" fill="#ff0000" />
<rect x="306" y="181" width="1" height="1" fill="#ff0000" />
<rect x="307" y="180" width="1" height="1" fill="#ff0000" />
<rect x="308" y="179" width="1" height="1" fill="#ff0000" />
<rect x="309" y="178" width="1" height="1" fill="#ff0000" />
<rect x="310" y="177" width="1" height="1" fill="#ff0000" />
<rect x="311" y="176" width="2" height="1" fill="#ff0000" />
<rect x="313" y="175" width="1" height="1" fill="#ff0000" />
<rect x="314" y="174" width="1" height="1" fill="#ff0000" />
<rect x="315" y="173" width="1" height="1" fill="#ff0000" />
<rect x="316" y="172" width="1" height="1" fill="#ff0000" />
<rect x="317" y="171" width="1" height="1" fill="#ff0000" />
<rect x="318" y="170" width="1" height="1" fill="#ff0000" />
<rect x="319" y="169" width="1" height="1" fill="#ff0000" />
<rect x="320" y="168" width="1" height="1" fill="#ff0000" />
<rect x="321" y="167" width="1" height="1" fill="#ff0000" />
<rect x="322" y="166" width="1" height="1" fill="#ff0000" />
<rect x="323" y="165" width="1" height="1" fill="#ff0000" />
<rect x="324" y="164" width="1" height="1" fill="#ff0000" />
<rect x="325" y="163" width="1" height="1" fill="#ff0000" />
<rect x="326" y="162" width="1" height="1" fill="#ff0000" />
<rect x="327" y="161" width="1" height="1" fill="#ff0000" />
<rect x="328" y="160" width="1" height="1" fill="#ff0000" />
<rect x="329" y="159" width="1" height="1" fill="#ff0000" />
<rect x="330" y="158" width="1" height="1" fill="#ff0000" />
<rect x="331" y="157" width="1" height="1" fill="#ff0000" />
<rect x="332" y="156" width="1" height="1" fill="#ff0000" />
<rect x="333" y="155" width="1" height="1" fill="#ff0000" />
<rect x="334" y="154" width="1" height="1" fill="#ff0000" />
<rect x="335" y="153" width="1" height="1" fill="#ff0000" />
<rect x="336" y="152" width="1" height="1" fill="#ff0000" />
<rect x="337" y="151" width="1" height="1" fill="#ff0000" />
<rect x="338" y="150" width="1" height="1" fill="#ff0000" />
<rect x="339" y="149" width="1" height="1" fill="#ff0000" />
<rect x="340" y="148" width="1" height="1" fill="#ff0000" />
<rect x="341" y="147" width="1" height="1" fill="#ff0000" />
<rect x="342" y="146" width="1" height="1" fill="#ff0000" />
<rect x="343" y="145" width="1" height="1" fill="#ff0000" />
<rect x="344" y="144" width="1" height="1" fill="#ff0000" />
<rect x="345" y="143" width="1" height="1" fill="#ff0000" />
<rect x="346" y="142" width="1" height="1" fill="#ff0000" />
<rect x="347" y="141" width="1" height="1" fill="#ff0000" />
<rect x="348" y="140" width="1" height="1" fill="#ff0000" />
<rect x="349" y="139" width="1" height="1" fill="#ff0000" />
<rect x="350" y="138" width="1" height="1" fill="#ff0000" />
<rect x="351" y="137" width="1" height="1" fill="#ff0000" />
<rect x="352" y="136" width="2" height="1" fill="#ff0000" />
<rect x="354" y="135" width="1" height="1" fill="#ff0000" />
<rect x="355" y="134" width="1" height="1" fill="#ff0000" />
<rect x="356" y="133" width="2" height="1" fill="#ff0000" />
<rect x="358" y="132" width="1" height="1" fill="#ff0000" />
<rect x="359" y="131" width="1" height="1" fill="#ff0000" />
<rect x="360" y="130" width="2" height="1" fill="#ff0000" />
<rect x="362" y="129" width="1" height="1" fill="#ff0000" />
<rect x="363" y="128" width="1" height="1" fill="#ff0000" />
<rect x="364" y="127" width="1" height="1" fill="#ff0000" />
<rect x="365" y="126" width="1" height="1" fill="#ff0000" />
<rect x="366" y="125" width="1" height="1" fill="#ff0000" />
<rect x="367" y="124" width="1" height="1" fill="#ff0000" />
<rect x="368" y="123" width="1" height="1" fill="#ff0000" />
<rect x="369" y="122" width="1" height="1" fill="#ff0000" />
<rect x="370" y="121" width="1" height="1" fill="#ff0000" />
<rect x="371" y="120" width="1" height="1" fill="#ff0000" />
<rect x="372" y="119" width="1" height="1" fill="#ff0000" />
<rect x="373" y="118" width="1" height="1" fill="#ff0000" />
<rect x="374" y="117" width="1" height="1" fill="#ff0000" />
<rect x="375" y="116" width="1" height="1" fill="#ff0000" />
<rect x="376" y="115" width="1" height="1" fill="#ff0000" />
<rect x="377" y="114" width="1" height="1" fill="#ff0000" />
<rect x="378" y="113" width="1" height="1" fill="#ff0000" />
<rect x="379" y="112" width="1" height="1" fill="#ff0000" />
<rect x="380" y="111" width="1" height="1" fill="#ff0000" />
<rect x="381" y="110" width="1" height="1" fill="#ff0000" />
<rect x="382" y="109" width="2" height="1" fill="#ff0000" />
<rect x="384" y="108" width="1" height="1" fill="#ff0000" />
<rect x="385" y="107" width="1" height="1" fill="#ff0000" />
<rect x="386" y="106" width="1" height="1" fill="#ff0000" />
<rect x="387" y="105" width="1" height="1" fill="#ff0000" />
<rect x="388" y="104" width="1" height="1" fill="#ff0000" />
<rect x="389" y="103" width="1" height="1" fill="#ff0000" />
<rect x="390" y="102" width="1" height="1" fill="#ff0000" />
<rect x="391" y="101" width="1" height="1" fill="#ff0000" />
<rect x="392" y="100" width="1" height="1" fill="#ff0000" />
<rect x="393" y="99" width="1" height="1" fill="#ff0000" />
<rect x="394" y="98" width="1" height="1" fill="#ff0000" />
<rect x="395" y="97" width="1" height="1" fill="#ff0000" />
<rect x="396" y="96" width="1" height="1" fill="#ff0000" />
<rect x="397" y="95" width="1" height="1" fill="#ff0000" />
<rect x="398" y="94" width="2" height="1" fill="#ff0000" />
<rect x="400" y="93" width="1" height="1" fill="#ff0000" />
<rect x="401" y="92" width="1" height="1" fill="#ff0000" />
<rect x="402" y="91" width="1" height="1" fill="#ff0000" />
<rect x="403" y="90" width="3" height="1" fill="#ff0000" />
<rect x="406" y="89" width="2" height="1" fill="#ff0000" />
<rect x="408" y="88" width="1" height="1" fill="#ff0000" />
<rect x="409" y="87" width="2" height="1" fill="#ff0000" />
<rect x="411" y="86" width="1" height="1" fill="#ff0000" />
<rect x="412" y="85" width="2" height="1" fill="#ff0000" />
<rect x="414" y="84" width="3" height="1" fill="#ff0000" />
<rect x="417" y="83" width="2" height="1" fill="#ff0000" />
<rect x="419" y="82" width="2" height="1" fill="#ff0000" />
<rect x="421" y="81" width="6" height="1" fill="#ff0000" />
<rect x="427" y="80" width="6" height="1" fill="#ff0000" />
<rect x="433" y="79" width="6" height="1" fill="#ff0000" />
<rect x="439" y="80" width="3" height="1" fill="#ff0000" />
<rect x="442" y="81" width="4" height="1" fill="#ff0000" />
<rect x="446" y="82" width="2" height="1" fill="#ff0000" />
<rect x="448" y="83" width="2" height="1" fill="#ff0000" />
<rect x="450" y="84" width="2" height="1" fill="#ff0000" />
<rect x="452" y="85" width="2" height="1" fill="#ff0000" />
<rect x="454" y="86" width="3" height="1" fill="#ff0000" />
<rect x="457" y="87" width="2" height="1" fill="#ff0000" />
<rect x="459" y="88" width="4" height="1" fill="#ff0000" />
<rect x="463" y="89" width="3" height="1" fill="#ff0000" />
<rect x="466" y="90" width="4" height="1" fill="#ff0000" />
<rect x="470" y="91" width="1" height="1" fill="#ff0000" />
<rect x="471" y="92" width="2" height="1" fill="#ff0000" />
<rect x="473" y="93" width="2" height="1" fill="#ff0000" />
<rect x="475" y="94" width="2" height="1" fill="#ff0000" />
<rect x="477" y="95" width="1" height="1" fill="#ff0000" />
<rect x="478" y="96" width="2" height="1" fill="#ff0000" />
<rect x="480" y="97" width="1" height="1" fill="#ff0000" />
<rect x="481" y="98" width="1" height="1" fill="#ff0000" />
<rect x="482" y="99" width="1" height="1" fill="#ff0000" />
<rect x="483" y="100" width="1" height="1" fill="#ff0000" />
<rect x="484" y="101" width="1" height="1" fill="#ff0000" />
<rect x="485" y="102" width="1" height="1" fill="#ff0000" />
<rect x="486" y="103" width="1" height="1" fill="#ff0000" />
<rect x="486" y="103" width="1" height="2" fill="#ff0000" />
<rect x="487" y="105" width="1" height="1" fill="#ff0000" />
<rect x="487" y="105" width="1" height="1" fill="#ff0000" />
<rect x="488" y="106" width="1" height="1" fill="#ff0000" />
<rect x="489" y="107" width="1" height="1" fill="#ff0000" />
<rect x="490" y="108" width="1" height="1" fill="#ff0000" />
<rect x="491" y="109" width="1" height="1" fill="#ff0000" />
<rect x="492" y="110" width="1" height="1" fill="#ff0000" />
<rect x="493" y="111" width="1" height="1" fill="#ff0000" />
<rect x="494" y="112" width="1" height="1" fill="#ff0000" />
<rect x="495" y="113" width="2" height="1" fill="#ff0000" />
<rect x="497" y="114" width="1" height="1" fill="#ff0000" />
<rect x="498" y="115" width="1" height="1" fill="#ff0000" />
<rect x="499" y="116" width="1" height="1" fill="#ff0000" />
<rect x="500" y="117" width="1" height="1" fill="#ff0000" />
<rect x="501" y="118" width="1" height="1" fill="#ff0000" />
<rect x="502" y="119" width="1" height="1" fill="#ff0000" />
<rect x="503" y="120" width="1" height="1" fill="#ff0000" />
<rect x="504" y="121" width="1" height="1" fill="#ff0000" />
<rect x="505" y="122" width="1" height="1" fill="#ff0000" />
<rect x="506" y="123" width="1" height="1" fill="#ff0000" />
<rect x="507" y="124" width="1" height="1" fill="#ff0000" />
<rect x="508" y="125" width="1" height="1" fill="#ff0000" />
<rect x="509" y="126" width="1" height="1" fill="#ff0000" />
<rect x="510" y="127" width="1" height="1" fill="#ff0000" />
<rect x="511" y="128" width="1" height="1" fill="#ff0000" />
<rect x="512" y="129" width="1" height="1" fill="#ff0000" />
<rect x="513" y="130" width="1" height="1" fill="#ff0000" />
<rect x="513" y="130" width="1" height="2" fill="#ff0000" />
<rect x="514" y="132" width="1" height="1" fill="#ff0000" />
<rect x="514" y="132" width="1" height="1" fill="#ff0000" />
<rect x="515" y="133" width="1" height="1" fill="#ff0000" />
<rect x="516" y="134" width="1" height="1" fill="#ff0000" />
<rect x="517" y="135" width="1" height="1" fill="#ff0000" />
<rect x="518" y="136" width="1" height="1" fill="#ff0000" />
<rect x="519" y="137" width="1" height="1" fill="#ff0000" />
<rect x="519" y="137" width="1" height="2" fill="#ff0000" />
<rect x="520" y="139" width="1" height="1" fill="#ff0000" />
<rect x="520" y="139" width="1" height="1" fill="#ff0000" />
<rect x="521" y="140" width="1" height="1" fill="#ff0000" />
<rect x="522" y="141" width="1" height="1" fill="#ff0000" />
<rect x="523" y="142" width="1" height="1" fill="#ff0000" />
<rect x="524" y="143" width="1" height="1" fill="#ff0000" />
<rect x="525" y="144" width="1" height="1" fill="#ff0000" />
<rect x="525" y="144" width="1" height="2" fill="#ff0000" />
<rect x="526" y="146" width="1" height="1" fill="#ff0000" />
<rect x="526" y="146" width="1" height="1" fill="#ff0000" />
<rect x="527" y="147" width="1" height="1" fill="#ff0000" />
<rect x="528" y="148" width="1" height="1" fill="#ff0000" />
<rect x="529" y="149" width="1" height="1" fill="#ff0000" />
<rect x="530" y="150" width="1" height="1" fill="#ff0000" />
<rect x="531" y="151" width="1" height="1" fill="#ff0000" />
<rect x="531" y="151" width="1" height="2" fill="#ff0000" />
<rect x="532" y="153" width="1" height="1" fill="#ff0000" />
<rect x="532" y="153" width="1" height="1" fill="#ff0000" />
<rect x="533" y="154" width="2" height="1" fill="#ff0000" />
<rect x="535" y="155" width="1" height="1" fill="#ff0000" />
<rect x="536" y="156" width="1" height="1" fill="#ff0000" />
<rect x="537" y="157" width="1" height="1" fill="#ff0000" />
<rect x="538" y="158" width="1" height="1" fill="#ff0000" />
<rect x="539" y="159" width="2" height="1" fill="#ff0000" />
<rect x="541" y="160" width="1" height="1" fill="#ff0000" />
<rect x="542" y="161" width="1" height="1" fill="#ff0000" />
<rect x="543" y="162" width="1" height="1" fill="#ff0000" />
<rect x="544" y="163" width="1" height="1" fill="#ff0000" />
<rect x="545" y="164" width="1" height="1" fill="#ff0000" />
<rect x="546" y="165" width="1" height="1" fill="#ff0000" />
<rect x="546" y="165" width="1" height="2" fill="#ff0000" />
<rect x="547" y="167" width="1" height="1" fill="#ff0000" />
<rect x="547" y="167" width="1" height="1" fill="#ff0000" />
<rect x="548" y="168" width="1" height="1" fill="#ff0000" />
<rect x="549" y="169" width="1" height="1" fill="#ff0000" />
<rect x="550" y="170" width="1" height="1" fill="#ff0000" />
<rect x="551" y="171" width="1" height="1" fill="#ff0000" />
<rect x="552" y="172" width="1" height="1" fill="#ff0000" />
<rect x="553" y="173" width="1" height="1" fill="#ff0000" />
<rect x="554" y="174" width="1" height="1" fill="#ff0000" />
<rect x="554" y="174" width="1" height="2" fill="#ff0000" />
<rect x="555" y="176" width="1" height="1" fill="#ff0000" />
<rect x="555" y="176" width="1" height="1" fill="#ff0000" />
<rect x="556" y="177" width="2" height="1" fill="#ff0000" />
<rect x="558" y="178" width="1" height="1" fill="#ff0000" />
<rect x="559" y="179" width="1" height="1" fill="#ff0000" />
<rect x="560" y="180" width="2" height="1" fill="#ff0000" />
<rect x="562" y="181" width="1" height="1" fill="#ff0000" />
<rect x="563" y="182" width="1" height="1" fill="#ff0000" />
<rect x="564" y="183" width="1" height="1" fill="#ff0000" />
<rect x="565" y="184" width="1" height="1" fill="#ff0000" />
<rect x="566" y="185" width="1" height="1" fill="#ff0000" />
<rect x="567" y="186" width="1" height="1" fill="#ff0000" />
<rect x="568" y="187" width="1" height="1" fill="#ff0000" />
<rect x="569" y="188" width="1" height="1" fill="#ff0000" />
<rect x="570" y="189" width="1" height="1" fill="#ff0000" />
<rect x="571" y="190" width="1" height="1" fill="#ff0000" />
<rect x="572" y="191" width="2" height="1" fill="#ff0000" />
<rect x="574" y="192" width="1" height="1" fill="#ff0000" />
<rect x="575" y="193" width="1" height="1" fill="#ff0000" />
<rect x="576" y="194" width="1" height="1" fill="#ff0000" />
<rect x="577" y="195" width="1" height="1" fill="#ff0000" />
<rect x="578" y="196" width="1" height="1" fill="#ff0000" />
<rect x="579" y="197" width="1" height="1" fill="#ff0000" />
<rect x="580" y="198" width="1" height="1" fill="#ff0000" />
<rect x="581" y="199" width="1" height="1" fill="#ff0000" />
<rect x="582" y="200" width="1" height="1" fill="#ff0000" />
<rect x="583" y="201" width="1" height="1" fill="#ff0000" />
<rect x="584" y="202" width="1" height="1" fill="#ff0000" />
<rect x="584" y="202" width="1" height="2" fill="#ff0000" />
<rect x="585" y="204" width="1" height="1" fill="#ff0000" />
<rect x="585" y="204" width="1" height="1" fill="#ff0000" />
<rect x="586" y="205" width="1" height="1" fill="#ff0000" />
<rect x="587" y="206" width="1" height="1" fill="#ff0000" />
<rect x="588" y="207" width="1" height="1" fill="#ff0000" />
<rect x="589" y="208" width="1" height="1" fill="#ff0000" />
<rect x="590" y="209" width="1" height="1" fill="#ff0000" />
<rect x="591" y="210" width="1" height="1" fill="#ff0000" />
<rect x="591" y="210" width="1" height="2" fill="#ff0000" />
<rect x="592" y="212" width="1" height="1" fill="#ff0000" />
<rect x="592" y="212" width="1" height="1" fill="#ff0000" />
<rect x="593" y="213" width="1" height="1" fill="#ff0000" />
<rect x="594" y="214" width="1" height="1" fill="#ff0000" />
<rect x="595" y="215" width="1" height="1" fill="#ff0000" />
<rect x="596" y="216" width="1" height="1" fill="#ff0000" />
<rect x="597" y="217" width="1" height="1" fill="#ff0000" />
<rect x="598" y="218" width="1" height="1" fill="#ff0000" />
<rect x="599" y="219" width="2" height="1" fill="#ff0000" />
<rect x="601" y="220" width="1" height="1" fill="#ff0000" />
<rect x="602" y="221" width="1" height="1" fill="#ff0000" />
<rect x="603" y="222" width="1" height="1" fill="#ff0000" />
<rect x="604" y="223" width="1" height="1" fill="#ff0000" />
<rect x="605" y="224" width="2" height="1" fill="#ff0000" />
<rect x="607" y="225" width="1" height="1" fill="#ff0000" />
<rect x="608" y="226" width="1" height="1" fill="#ff0000" />
<rect x="609" y="227" width="1" height="1" fill="#ff0000" />
<rect x="610" y="228" width="1" height="1" fill="#ff0000" />
<rect x="611" y="229" width="1" height="1" fill="#ff0000" />
<rect x="612" y="230" width="1" height="1" fill="#ff0000" />
<rect x="613" y="231" width="1" height="1" fill="#ff0000" />
<rect x="614" y="232" width="1" height="1" fill="#ff0000" />
<rect x="615" y="233" width="1" height="1" fill="#ff0000" />
<rect x="616" y="234" width="1" height="1" fill="#ff0000" />
<rect x="617" y="235" width="1" height="1" fill="#ff0000" />
<rect x="618" y="236" width="1" height="1" fill="#ff0000" />
<rect x="619" y="237" width="1" height="1" fill="#ff0000" />
<rect x="620" y="238" width="1" height="1" fill="#ff0000" />
<rect x="620" y="238" width="1" height="2" fill="#ff0000" />
<rect x="621" y="240" width="1" height="1" fill="#ff0000" />
<rect x="621" y="240" width="1" height="1" fill="#ff0000" />
<rect x="622" y="241" width="1" height="1" fill="#ff0000" />
<rect x="623" y="242" width="1" height="1" fill="#ff0000" />
<rect x="623" y="242" width="1" height="2" fill="#ff0000" />
<rect x="624" y="244" width="1" height="1" fill="#ff0000" />
<rect x="624" y="244" width="1" height="1" fill="#ff0000" />
<rect x="625" y="245" width="1" height="1" fill="#ff0000" />
<rect x="626" y="246" width="1" height="1" fill="#ff0000" />
<rect x="627" y="247" width="1" height="1" fill="#ff0000" />
<rect x="627" y="247" width="1" height="2" fill="#ff0000" />
<rect x="628" y="249" width="1" height="1" fill="#ff0000" />
<rect x="628" y="249" width="1" height="1" fill="#ff0000" />
<rect x="629" y="250" width="1" height="1" fill="#ff0000" />
<rect x="630" y="251" width="1" height="1" fill="#ff0000" />
<rect x="631" y="252" width="1" height="1" fill="#ff0000" />
<rect x="631" y="252" width="1" height="2" fill="#ff0000" />
<rect x="632" y="254" width="1" height="1" fill="#ff0000" />
<rect x="632" y="254" width="1" height="1" fill="#ff0000" />
<rect x="633" y="255" width="1" height="1" fill="#ff0000" />
<rect x="634" y="256" width="1" height="1" fill="#ff0000" />
<rect x="635" y="257" width="1" height="1" fill="#ff0000" />
<rect x="636" y="258" width="1" height="1" fill="#ff0000" />
<rect x="637" y="259" width="1" height="1" fill="#ff0000" />
<rect x="638" y="260" width="1" height="1" fill="#ff0000" />
<rect x="638" y="260" width="1" height="2" fill="#ff0000" />
<rect x="639" y="262" width="1" height="1" fill="#ff0000" />
<rect x="639" y="262" width="1" height="1" fill="#ff0000" />
<rect x="640" y="263" width="1" height="1" fill="#ff0000" />
<rect x="640" y="263" width="1" height="2" fill="#ff0000" />
<rect x="641" y="265" width="1" height="1" fill="#ff0000" />
<rect x="641" y="265" width="1" height="1" fill="#ff0000" />
<rect x="642" y="266" width="1" height="1" fill="#ff0000" />
<rect x="642" y="266" width="1" height="2" fill="#ff0000" />
<rect x="643" y="268" width="1" height="1" fill="#ff0000" />
<rect x="643" y="268" width="1" height="1" fill="#ff0000" />
<rect x="644" y="269" width="1" height="1" fill="#ff0000" />
<rect x="644" y="269" width="1" height="2" fill="#ff0000" />
<rect x="645" y="271" width="1" height="1" fill="#ff0000" />
<rect x="645" y="271" width="1" height="1" fill="#ff0000" />
<rect x="646" y="272" width="1" height="1" fill="#ff0000" />
<rect x="646" y="272" width="1" height="2" fill="#ff0000" />
<rect x="647" y="274" width="1" height="1" fill="#ff0000" />
<rect x="647" y="274" width="1" height="1" fill="#ff0000" />
<rect x="648" y="275" width="1" height="1" fill="#ff0000" />
<rect x="649" y="276" width="1" height="1" fill="#ff0000" />
<rect x="650" y="277" width="1" height="1" fill="#ff0000" />
<rect x="650" y="277" width="1" height="2" fill="#ff0000" />
<rect x="651" y="279" width="1" height="1" fill="#ff0000" />
<rect x="651" y="279" width="1" height="1" fill="#ff0000" />
<rect x="652" y="280" width="1" height="1" fill="#ff0000" />
<rect x="653" y="281" width="1" height="1" fill="#ff0000" />
<rect x="654" y="282" width="1" height="1" fill="#ff0000" />
<rect x="655" y="283" width="1" height="1" fill="#ff0000" />
<rect x="656" y="284" width="2" height="1" fill="#ff0000" />
<rect x="658" y="285" width="1" height="1" fill="#ff0000" />
<rect x="659" y="286" width="1" height="1" fill="#ff0000" />
<rect x="660" y="287" width="1" height="1" fill="#ff0000" />
<rect x="661" y="288" width="2" height="1" fill="#ff0000" />
<rect x="663" y="289" width="2" height="1" fill="#ff0000" />
<rect x="665" y="290" width="2" height="1" fill="#ff0000" />
<rect x="667" y="291" width="2" height="1" fill="#ff0000" />
<rect x="669" y="292" width="3" height="1" fill="#ff0000" />
<rect x="672" y="293" width="3" height="1" fill="#ff0000" />
<rect x="675" y="294" width="3" height="1" fill="#ff0000" />
<rect x="678" y="295" width="3" height="1" fill="#ff0000" />
<rect x="681" y="296" width="4" height="1" fill="#ff0000" />
<rect x="685" y="297" width="4" height="1" fill="#ff0000" />
<rect x="689" y="298" width="3" height="1" fill="#ff0000" />
<rect x="692" y="299" width="30" height="1" fill="#ff0000" />
<rect x="722" y="298" width="8" height="1" fill="#ff0000" />
<rect x="730" y="297" width="6" height="1" fill="#ff0000" />
<rect x="736" y="296" width="5" height="1" fill="#ff0000" />
<rect x="741" y="295" width="4" height="1" fill="#ff0000" />
<rect x="745" y="294" width="3" height="1" fill="#ff0000" />
<rect x="748" y="293" width="3" height="1" fill="#ff0000" />
<rect x="751" y="292" width="1" height="1" fill="#ff0000" />
<rect x="752" y="291" width="2" height="1" fill="#ff0000" />
<rect x="754" y="290" width="1" height="1" fill="#ff0000" />
<rect x="755" y="289" width="2" height="1" fill="#ff0000" />
<rect x="757" y="288" width="2" height="1" fill="#ff0000" />
<rect x="759" y="287" width="1" height="1" fill="#ff0000" />
<rect x="760" y="286" width="3" height="1" fill="#ff0000" />
<rect x="763" y="285" width="1" height="1" fill="#ff0000" />
<rect x="764" y="284" width="1" height="1" fill="#ff0000" />
<rect x="765" y="283" width="1" height="1" fill="#ff0000" />
<rect x="766" y="282" width="1" height="1" fill="#ff0000" />
<rect x="767" y="281" width="1" height="1" fill="#ff0000" />
<rect x="768" y="280" width="2" height="1" fill="#ff0000" />
<rect x="770" y="279" width="1" height="1" fill="#ff0000" />
<rect x="771" y="278" width="2" height="1" fill="#ff0000" />
<rect x="773" y="277" width="1" height="1" fill="#ff0000" />
<rect x="774" y="276" width="2" height="1" fill="#ff0000" />
<rect x="776" y="275" width="3" height="1" fill="#ff0000" />
<rect x="779" y="274" width="3" height="1" fill="#ff0000" />
<rect x="782" y="273" width="2" height="1" fill="#ff0000" />
<rect x="784" y="272" width="2" height="1" fill="#ff0000" />
<rect x="786" y="271" width="3" height="1" fill="#ff0000" />
<rect x="789" y="270" width="2" height="1" fill="#ff0000" />
<rect x="791" y="269" width="3" height="1" fill="#ff0000" />
<rect x="794" y="268" width="3" height="1" fill="#ff0000" />
<rect x="797" y="267" width="3" height="1" fill="#ff0000" />
<rect x="800" y="266" width="4" height="1" fill="#ff0000" />
<rect x="804" y="265" width="3" height="1" fill="#ff0000" />
<rect x="807" y="264" width="2" height="1" fill="#ff0000" />
<rect x="809" y="263" width="3" height="1" fill="#ff0000" />
<rect x="812" y="262" width="2" height="1" fill="#ff0000" />
<rect x="814" y="261" width="2" height="1" fill="#ff0000" />
<rect x="816" y="260" width="1" height="1" fill="#ff0000" />
<rect x="817" y="259" width="2" height="1" fill="#ff0000" />
<rect x="819" y="258" width="1" height="1" fill="#ff0000" />
<rect x="820" y="257" width="1" height="1" fill="#ff0000" />
<rect x="821" y="256" width="2" height="1" fill="#ff0000" />
<rect x="823" y="255" width="1" height="1" fill="#ff0000" />
<rect x="824" y="254" width="1" height="1" fill="#ff0000" />
<rect x="825" y="253" width="2" height="1" fill="#ff0000" />
<rect x="827" y="252" width="1" height="1" fill="#ff0000" />
<rect x="828" y="251" width="1" height="1" fill="#ff0000" />
<rect x="829" y="250" width="2" height="1" fill="#ff0000" />
<rect x="831" y="249" width="2" height="1" fill="#ff0000" />
<rect x="833" y="248" width="2" height="1" fill="#ff0000" />
<rect x="835" y="247" width="2" height="1" fill="#ff0000" />
<rect x="837" y="246" width="2" height="1" fill="#ff0000" />
<rect x="839" y="245" width="2" height="1" fill="#ff0000" />
<rect x="841" y="244" width="3" height="1" fill="#ff0000" />
<rect x="844" y="243" width="2" height="1" fill="#ff0000" />
<rect x="846" y="242" width="3" height="1" fill="#ff0000" />
<rect x="849" y="241" width="2" height="1" fill="#ff0000" />
<rect x="851" y="240" width="2" height="1" fill="#ff0000" />
<rect x="853" y="239" width="2" height="1" fill="#ff0000" />
<rect x="855" y="238" width="2" height="1" fill="#ff0000" />
<rect x="857" y="237" width="2" height="1" fill="#ff0000" />
<rect x="859" y="236" width="2" height="1" fill="#ff0000" />
<rect x="861" y="235" width="2" height="1" fill="#ff0000" />
<rect x="863" y="234" width="2" height="1" fill="#ff0000" />
<rect x="865" y="233" width="2" height="1" fill="#ff0000" />
<rect x="867" y="232" width="2" height="1" fill="#ff0000" />
<rect x="869" y="231" width="3" height="1" fill="#ff0000" />
<rect x="872" y="230" width="10" height="1" fill="#ff0000" />
<rect x="882" y="231" width="4" height="1" fill="#ff0000" />
<rect x="886" y="232" width="4" height="1" fill="#ff0000" />
<rect x="890" y="233" width="4" height="1" fill="#ff0000" />
<rect x="894" y="234" width="4" height="1" fill="#ff0000" />
<rect x="898" y="235" width="8" height="1" fill="#ff0000" />
<rect x="906" y="236" width="7" height="1" fill="#ff0000" />
<rect x="913" y="237" width="4" height="1" fill="#ff0000" />
<rect x="4" y="150" width="1" height="36" fill="#ff0000" />
<rect x="4" y="152" width="3" height="28" fill="#ff0000" />
<rect x="4" y="153" width="2" height="26" fill="#ff4500" />
<rect x="12" y="126" width="1" height="33" fill="#ff0000" />
<rect x="10" y="133" width="5" height="19" fill="#ff0000" />
<rect x="11" y="134" width="3" height="17" fill="#ff4500" />
<rect x="20" y="95" width="1" height="41" fill="#ff0000" />
<rect x="18" y="96" width="5" height="37" fill="#ff0000" />
<rect x="19" y="97" width="3" height="35" fill="#ff4500" />
<rect x="28" y="103" width="1" height="4" fill="#32cd32" />
<rect x="26" y="103" width="5" height="4" fill="#32cd32" />
<rect x="36" y="107" width="1" height="11" fill="#32cd32" />
<rect x="34" y="107" width="5" height="5" fill="#32cd32" />
<rect x="44" y="103" width="1" height="45" fill="#32cd32" />
<rect x="42" y="111" width="5" height="29" fill="#32cd32" />
<rect x="52" y="130" width="1" height="34" fill="#32cd32" />
<rect x="50" y="140" width="5" height="16" fill="#32cd32" />
<rect x="60" y="135" width="1" height="29" fill="#ff0000" />
<rect x="58" y="151" width="5" height="5" fill="#ff0000" />
<rect x="59" y="152" width="3" height="3" fill="#ff4500" />
<rect x="68" y="126" width="1" height="28" fill="#32cd32" />
<rect x="66" y="150" width="5" height="4" fill="#32cd32" />
<rect x="76" y="151" width="1" height="2" fill="#32cd32" />
<rect x="74" y="151" width="5" height="2" fill="#32cd32" />
<rect x="84" y="146" width="1" height="23" fill="#32cd32" />
<rect x="82" y="152" width="5" height="1" fill="#32cd32" />
<rect x="92" y="148" width="1" height="35" fill="#32cd32" />
<rect x="90" y="152" width="5" height="29" fill="#32cd32" />
<rect x="100" y="165" width="1" height="25" fill="#ff0000" />
<rect x="98" y="166" width="5" height="14" fill="#ff0000" />
<rect x="99" y="167" width="3" height="12" fill="#ff4500" />
<rect x="108" y="163" width="1" height="42" fill="#32cd32" />
<rect x="106" y="166" width="5" height="29" fill="#32cd32" />
<rect x="116" y="177" width="1" height="34" fill="#32cd32" />
<rect x="114" y="195" width="5" height="12" fill="#32cd32" />
<rect x="124" y="210" width="1" height="4" fill="#32cd32" />
<rect x="122" y="210" width="5" height="2" fill="#32cd32" />
<rect x="132" y="208" width="1" height="29" fill="#32cd32" />
<rect x="130" y="211" width="5" height="3" fill="#32cd32" />
<rect x="140" y="200" width="1" height="36" fill="#32cd32" />
<rect x="138" y="213" width="5" height="18" fill="#32cd32" />
<rect x="148" y="192" width="1" height="42" fill="#ff0000" />
<rect x="146" y="230" width="5" height="3" fill="#ff0000" />
<rect x="147" y="231" width="3" height="1" fill="#ff4500" />
<rect x="156" y="181" width="1" height="53" fill="#ff0000" />
<rect x="154" y="192" width="5" height="37" fill="#ff0000" />
<rect x="155" y="193" width="3" height="35" fill="#ff4500" />
<rect x="164" y="180" width="1" height="47" fill="#32cd32" />
<rect x="162" y="192" width="5" height="24" fill="#32cd32" />
<rect x="172" y="208" width="1" height="6" fill="#ff0000" />
<rect x="170" y="210" width="5" height="3" fill="#ff0000" />
<rect x="171" y="211" width="3" height="1" fill="#ff4500" />
<rect x="180" y="193" width="1" height="26" fill="#ff0000" />
<rect x="178" y="201" width="5" height="9" fill="#ff0000" />
<rect x="179" y="202" width="3" height="7" fill="#ff4500" />
<rect x="188" y="183" width="1" height="51" fill="#32cd32" />
<rect x="186" y="201" width="5" height="22" fill="#32cd32" />
<rect x="196" y="211" width="1" height="55" fill="#32cd32" />
<rect x="194" y="222" width="5" height="39" fill="#32cd32" />
<rect x="204" y="215" width="1" height="47" fill="#ff0000" />
<rect x="202" y="231" width="5" height="30" fill="#ff0000" />
<rect x="203" y="232" width="3" height="28" fill="#ff4500" />
<rect x="212" y="204" width="1" height="49" fill="#ff0000" />
<rect x="210" y="209" width="5" height="24" fill="#ff0000" />
<rect x="211" y="210" width="3" height="22" fill="#ff4500" />
<rect x="220" y="201" width="1" height="5" fill="#32cd32" />
<rect x="218" y="203" width="5" height="3" fill="#32cd32" />
<rect x="228" y="188" width="1" height="31" fill="#ff0000" />
<rect x="226" y="196" width="5" height="9" fill="#ff0000" />
<rect x="227" y="197" width="3" height="7" fill="#ff4500" />
<rect x="236" y="189" width="1" height="31" fill="#32cd32" />
<rect x="234" y="196" width="5" height="2" fill="#32cd32" />
<rect x="244" y="195" width="1" height="39" fill="#32cd32" />
<rect x="242" y="197" width="5" height="4" fill="#32cd32" />
<rect x="252" y="176" width="1" height="31" fill="#ff0000" />
<rect x="250" y="180" width="5" height="21" fill="#ff0000" />
<rect x="251" y="181" width="3" height="19" fill="#ff4500" />
<rect x="260" y="168" width="1" height="30" fill="#32cd32" />
<rect x="258" y="180" width="5" height="3" fill="#32cd32" />
<rect x="268" y="187" width="1" height="7" fill="#32cd32" />
<rect x="266" y="188" width="5" height="5" fill="#32cd32" />
<rect x="276" y="148" width="1" height="46" fill="#ff0000" />
<rect x="274" y="162" width="5" height="31" fill="#ff0000" />
<rect x="275" y="163" width="3" height="29" fill="#ff4500" />
<rect x="284" y="141" width="1" height="31" fill="#32cd32" />
<rect x="282" y="162" width="5" height="10" fill="#32cd32" />
<rect x="292" y="141" width="1" height="35" fill="#ff0000" />
<rect x="290" y="142" width="5" height="29" fill="#ff0000" />
<rect x="291" y="143" width="3" height="27" fill="#ff4500" />
<rect x="300" y="117" width="1" height="32" fill="#ff0000" />
<rect x="298" y="124" width="5" height="19" fill="#ff0000" />
<rect x="299" y="125" width="3" height="17" fill="#ff4500" />
<rect x="308" y="109" width="1" height="21" fill="#ff0000" />
<rect x="306" y="120" width="5" height="5" fill="#ff0000" />
<rect x="307" y="121" width="3" height="3" fill="#ff4500" />
<rect x="316" y="115" width="1" height="6" fill="#ff0000" />
<rect x="314" y="118" width="5" height="2" fill="#ff0000" />
<rect x="324" y="117" width="1" height="28" fill="#32cd32" />
<rect x="322" y="117" width="5" height="7" fill="#32cd32" />
<rect x="332" y="82" width="1" height="42" fill="#ff0000" />
<rect x="330" y="89" width="5" height="35" fill="#ff0000" />
<rect x="331" y="90" width="3" height="33" fill="#ff4500" />
<rect x="340" y="61" width="1" height="33" fill="#ff0000" />
<rect x="338" y="65" width="5" height="23" fill="#ff0000" />
<rect x="339" y="66" width="3" height="21" fill="#ff4500" />
<rect x="348" y="47" width="1" height="52" fill="#32cd32" />
<rect x="346" y="65" width="5" height="31" fill="#32cd32" />
<rect x="356" y="67" width="1" height="35" fill="#ff0000" />
<rect x="354" y="94" width="5" height="2" fill="#ff0000" />
<rect x="364" y="91" width="1" height="5" fill="#32cd32" />
<rect x="362" y="92" width="5" height="1" fill="#32cd32" />
<rect x="372" y="71" width="1" height="25" fill="#ff0000" />
<rect x="370" y="79" width="5" height="13" fill="#ff0000" />
<rect x="371" y="80" width="3" height="11" fill="#ff4500" />
<rect x="380" y="59" width="1" height="22" fill="#ff0000" />
<rect x="378" y="67" width="5" height="13" fill="#ff0000" />
<rect x="379" y="68" width="3" height="11" fill="#ff4500" />
<rect x="388" y="53" width="1" height="29" fill="#32cd32" />
<rect x="386" y="67" width="5" height="8" fill="#32cd32" />
<rect x="396" y="42" width="1" height="45" fill="#ff0000" />
<rect x="394" y="56" width="5" height="18" fill="#ff0000" />
<rect x="395" y="57" width="3" height="16" fill="#ff4500" />
<rect x="404" y="42" width="1" height="33" fill="#32cd32" />
<rect x="402" y="56" width="5" height="4" fill="#32cd32" />
<rect x="412" y="63" width="1" height="5" fill="#ff0000" />
<rect x="410" y="64" width="5" height="2" fill="#ff0000" />
<rect x="420" y="53" width="1" height="29" fill="#ff0000" />
<rect x="418" y="62" width="5" height="2" fill="#ff0000" />
<rect x="428" y="56" width="1" height="65" fill="#32cd32" />
<rect x="426" y="62" width="5" height="50" fill="#32cd32" />
<rect x="436" y="92" width="1" height="34" fill="#ff0000" />
<rect x="434" y="92" width="5" height="20" fill="#ff0000" />
<rect x="435" y="93" width="3" height="18" fill="#ff4500" />
<rect x="444" y="91" width="1" height="52" fill="#32cd32" />
<rect x="442" y="92" width="5" height="36" fill="#32cd32" />
<rect x="452" y="125" width="1" height="31" fill="#32cd32" />
<rect x="450" y="127" width="5" height="10" fill="#32cd32" />
<rect x="460" y="131" width="1" height="5" fill="#32cd32" />
<rect x="458" y="134" width="5" height="2" fill="#32cd32" />
<rect x="468" y="114" width="1" height="28" fill="#ff0000" />
<rect x="466" y="124" width="5" height="12" fill="#ff0000" />
<rect x="467" y="125" width="3" height="10" fill="#ff4500" />
<rect x="476" y="114" width="1" height="42" fill="#32cd32" />
<rect x="474" y="124" width="5" height="22" fill="#32cd32" />
<rect x="484" y="136" width="1" height="41" fill="#32cd32" />
<rect x="482" y="146" width="5" height="25" fill="#32cd32" />
<rect x="492" y="166" width="1" height="33" fill="#32cd32" />
<rect x="490" y="171" width="5" height="25" fill="#32cd32" />
<rect x="500" y="170" width="1" height="34" fill="#ff0000" />
<rect x="498" y="173" width="5" height="23" fill="#ff0000" />
<rect x="499" y="174" width="3" height="21" fill="#ff4500" />
<rect x="508" y="169" width="1" height="5" fill="#ff0000" />
<rect x="506" y="171" width="5" height="3" fill="#ff0000" />
<rect x="507" y="172" width="3" height="1" fill="#ff4500" />
<rect x="516" y="149" width="1" height="28" fill="#ff0000" />
<rect x="514" y="164" width="5" height="8" fill="#ff0000" />
<rect x="515" y="165" width="3" height="6" fill="#ff4500" />
<rect x="524" y="151" width="1" height="44" fill="#32cd32" />
<rect x="522" y="163" width="5" height="28" fill="#32cd32" />
<rect x="532" y="187" width="1" height="28" fill="#32cd32" />
<rect x="530" y="189" width="5" height="20" fill="#32cd32" />
<rect x="540" y="194" width="1" height="26" fill="#ff0000" />
<rect x="538" y="204" width="5" height="5" fill="#ff0000" />
<rect x="539" y="205" width="3" height="3" fill="#ff4500" />
<rect x="548" y="195" width="1" height="38" fill="#32cd32" />
<rect x="546" y="204" width="5" height="24" fill="#32cd32" />
<rect x="556" y="227" width="1" height="5" fill="#ff0000" />
<rect x="554" y="230" width="5" height="1" fill="#ff0000" />
<rect x="564" y="205" width="1" height="32" fill="#32cd32" />
<rect x="562" y="229" width="5" height="4" fill="#32cd32" />
<rect x="572" y="227" width="1" height="18" fill="#32cd32" />
<rect x="570" y="232" width="5" height="3" fill="#32cd32" />
<rect x="580" y="232" width="1" height="26" fill="#32cd32" />
<rect x="578" y="235" width="5" height="13" fill="#32cd32" />
<rect x="588" y="242" width="1" height="22" fill="#32cd32" />
<rect x="586" y="247" width="5" height="17" fill="#32cd32" />
<rect x="596" y="261" width="1" height="39" fill="#32cd32" />
<rect x="594" y="263" width="5" height="34" fill="#32cd32" />
<rect x="604" y="280" width="1" height="17" fill="#ff0000" />
<rect x="602" y="281" width="5" height="16" fill="#ff0000" />
<rect x="603" y="282" width="3" height="14" fill="#ff4500" />
<rect x="612" y="271" width="1" height="28" fill="#ff0000" />
<rect x="610" y="280" width="5" height="2" fill="#ff0000" />
<rect x="620" y="265" width="1" height="63" fill="#32cd32" />
<rect x="618" y="280" width="5" height="12" fill="#32cd32" />
<rect x="628" y="263" width="1" height="47" fill="#32cd32" />
<rect x="626" y="291" width="5" height="11" fill="#32cd32" />
<rect x="636" y="294" width="1" height="22" fill="#32cd32" />
<rect x="634" y="301" width="5" height="13" fill="#32cd32" />
<rect x="644" y="312" width="1" height="54" fill="#32cd32" />
<rect x="642" y="313" width="5" height="53" fill="#32cd32" />
<rect x="652" y="352" width="1" height="12" fill="#ff0000" />
<rect x="650" y="354" width="5" height="10" fill="#ff0000" />
<rect x="651" y="355" width="3" height="8" fill="#ff4500" />
<rect x="660" y="332" width="1" height="29" fill="#ff0000" />
<rect x="658" y="335" width="5" height="20" fill="#ff0000" />
<rect x="659" y="336" width="3" height="18" fill="#ff4500" />
<rect x="668" y="292" width="1" height="50" fill="#ff0000" />
<rect x="666" y="293" width="5" height="43" fill="#ff0000" />
<rect x="667" y="294" width="3" height="41" fill="#ff4500" />
<rect x="676" y="257" width="1" height="40" fill="#ff0000" />
<rect x="674" y="266" width="5" height="28" fill="#ff0000" />
<rect x="675" y="267" width="3" height="26" fill="#ff4500" />
<rect x="684" y="255" width="1" height="31" fill="#32cd32" />
<rect x="682" y="266" width="5" height="14" fill="#32cd32" />
<rect x="692" y="258" width="1" height="30" fill="#ff0000" />
<rect x="690" y="266" width="5" height="14" fill="#ff0000" />
<rect x="691" y="267" width="3" height="12" fill="#ff4500" />
<rect x="700" y="264" width="1" height="8" fill="#ff0000" />
<rect x="698" y="268" width="5" height="3" fill="#ff0000" />
<rect x="699" y="269" width="3" height="1" fill="#ff4500" />
<rect x="708" y="262" width="1" height="38" fill="#32cd32" />
<rect x="706" y="268" width="5" height="21" fill="#32cd32" />
<rect x="716" y="285" width="1" height="27" fill="#32cd32" />
<rect x="714" y="288" width="5" height="16" fill="#32cd32" />
<rect x="724" y="261" width="1" height="50" fill="#ff0000" />
<rect x="722" y="267" width="5" height="37" fill="#ff0000" />
<rect x="723" y="268" width="3" height="35" fill="#ff4500" />
<rect x="732" y="234" width="1" height="46" fill="#ff0000" />
<rect x="730" y="262" width="5" height="5" fill="#ff0000" />
<rect x="731" y="263" width="3" height="3" fill="#ff4500" />
<rect x="740" y="258" width="1" height="29" fill="#32cd32" />
<rect x="738" y="262" width="5" height="24" fill="#32cd32" />
<rect x="748" y="289" width="1" height="13" fill="#32cd32" />
<rect x="746" y="289" width="5" height="8" fill="#32cd32" />
<rect x="756" y="290" width="1" height="27" fill="#32cd32" />
<rect x="754" y="296" width="5" height="5" fill="#32cd32" />
<rect x="764" y="273" width="1" height="35" fill="#ff0000" />
<rect x="762" y="278" width="5" height="22" fill="#ff0000" />
<rect x="763" y="279" width="3" height="20" fill="#ff4500" />
<rect x="772" y="236" width="1" height="59" fill="#ff0000" />
<rect x="770" y="241" width="5" height="37" fill="#ff0000" />
<rect x="771" y="242" width="3" height="35" fill="#ff4500" />
<rect x="780" y="218" width="1" height="32" fill="#ff0000" />
<rect x="778" y="230" width="5" height="11" fill="#ff0000" />
<rect x="779" y="231" width="3" height="9" fill="#ff4500" />
<rect x="788" y="223" width="1" height="16" fill="#32cd32" />
<rect x="786" y="230" width="5" height="3" fill="#32cd32" />
<rect x="796" y="226" width="1" height="6" fill="#000000" />
<rect x="794" y="230" width="5" height="1" fill="#000000" />
<rect x="804" y="222" width="1" height="23" fill="#ff0000" />
<rect x="802" y="227" width="5" height="4" fill="#ff0000" />
<rect x="803" y="228" width="3" height="2" fill="#ff4500" />
<rect x="812" y="211" width="1" height="26" fill="#32cd32" />
<rect x="810" y="227" width="5" height="2" fill="#32cd32" />
<rect x="820" y="206" width="1" height="34" fill="#ff0000" />
<rect x="818" y="214" width="5" height="15" fill="#ff0000" />
<rect x="819" y="215" width="3" height="13" fill="#ff4500" />
<rect x="828" y="204" width="1" height="18" fill="#32cd32" />
<rect x="826" y="214" width="5" height="5" fill="#32cd32" />
<rect x="836" y="203" width="1" height="20" fill="#ff0000" />
<rect x="834" y="207" width="5" height="12" fill="#ff0000" />
<rect x="835" y="208" width="3" height="10" fill="#ff4500" />
<rect x="844" y="204" width="1" height="5" fill="#ff0000" />
<rect x="842" y="209" width="5" height="1" fill="#ff0000" />
<rect x="852" y="203" width="1" height="55" fill="#32cd32" />
<rect x="850" y="209" width="5" height="41" fill="#32cd32" />
<rect x="860" y="220" width="1" height="37" fill="#ff0000" />
<rect x="858" y="225" width="5" height="26" fill="#ff0000" />
<rect x="859" y="226" width="3" height="24" fill="#ff4500" />
<rect x="868" y="206" width="1" height="34" fill="#32cd32" />
<rect x="866" y="225" width="5" height="11" fill="#32cd32" />
<rect x="876" y="236" width="1" height="44" fill="#32cd32" />
<rect x="874" y="236" width="5" height="35" fill="#32cd32" />
<rect x="884" y="255" width="1" height="33" fill="#ff0000" />
<rect x="882" y="257" width="5" height="13" fill="#ff0000" />
<rect x="883" y="258" width="3" height="11" fill="#ff4500" />
<rect x="892" y="257" width="1" height="7" fill="#ff0000" />
<rect x="890" y="261" width="5" height="1" fill="#ff0000" />
<rect x="900" y="246" width="1" height="31" fill="#ff0000" />
<rect x="898" y="259" width="5" height="3" fill="#ff0000" />
<rect x="899" y="260" width="3" height="1" fill="#ff4500" />
<rect x="908" y="240" width="1" height="35" fill="#ff0000" />
<rect x="906" y="242" width="5" height="17" fill="#ff0000" />
<rect x="907" y="243" width="3" height="15" fill="#ff4500" />
<rect x="914" y="242" width="5" height="1" fill="#32cd32" />
<rect x="5" y="42" width="223" height="61" fill="#ffffff" />
<rect x="4" y="43" width="1" height="1" fill="#ffffff" />
<rect x="3" y="402" width="3" height="7" fill="#c0c0c0" />
<rect x="11" y="402" width="3" height="2" fill="#c0c0c0" />
<rect x="19" y="399" width="3" height="3" fill="#c0c0c0" />
<rect x="27" y="396" width="3" height="6" fill="#c0c0c0" />
<rect x="35" y="393" width="3" height="9" fill="#c0c0c0" />
<rect x="43" y="393" width="3" height="9" fill="#c0c0c0" />
<rect x="51" y="394" width="3" height="8" fill="#c0c0c0" />
<rect x="59" y="395" width="3" height="7" fill="#c0c0c0" />
<rect x="67" y="395" width="3" height="7" fill="#c0c0c0" />
<rect x="75" y="396" width="3" height="6" fill="#c0c0c0" />
<rect x="83" y="396" width="3" height="6" fill="#c0c0c0" />
<rect x="91" y="398" width="3" height="4" fill="#c0c0c0" />
<rect x="99" y="399" width="3" height="3" fill="#c0c0c0" />
<rect x="107" y="401" width="3" height="1" fill="#c0c0c0" />
<rect x="115" y="402" width="3" height="3" fill="#c0c0c0" />
<rect x="123" y="402" width="3" height="5" fill="#c0c0c0" />
<rect x="131" y="402" width="3" height="7" fill="#c0c0c0" />
<rect x="139" y="402" width="3" height="9" fill="#c0c0c0" />
<rect x="147" y="402" width="3" height="11" fill="#c0c0c0" />
<rect x="155" y="402" width="3" height="10" fill="#c0c0c0" />
<rect x="163" y="402" width="3" height="10" fill="#c0c0c0" />
<rect x="171" y="402" width="3" height="9" fill="#c0c0c0" />
<rect x="179" y="402" width="3" height="8" fill="#c0c0c0" />
<rect x="187" y="402" width="3" height="10" fill="#c0c0c0" />
<rect x="195" y="402" width="3" height="13" fill="#c0c0c0" />
<rect x="203" y="402" width="3" height="13" fill="#c0c0c0" />
<rect x="211" y="402" width="3" height="12" fill="#c0c0c0" />
<rect x="219" y="402" width="3" height="10" fill="#c0c0c0" />
<rect x="227" y="402" width="3" height="9" fill="#c0c0c0" />
<rect x="235" y="402" width="3" height="8" fill="#c0c0c0" />
<rect x="243" y="402" width="3" height="7" fill="#c0c0c0" />
<rect x="251" y="402" width="3" height="5" fill="#c0c0c0" />
<rect x="259" y="402" width="3" height="3" fill="#c0c0c0" />
<rect x="267" y="402" width="3" height="3" fill="#c0c0c0" />
<rect x="275" y="402" width="3" height="1" fill="#c0c0c0" />
<rect x="283" y="401" width="3" height="1" fill="#c0c0c0" />
<rect x="291" y="398" width="3" height="4" fill="#c0c0c0" />
<rect x="299" y="395" width="3" height="7" fill="#c0c0c0" />
<rect x="307" y="393" width="3" height="9" fill="#c0c0c0" />
<rect x="315" y="391" width="3" height="11" fill="#c0c0c0" />
<rect x="323" y="390" width="3" height="12" fill="#c0c0c0" />
<rect x="331" y="387" width="3" height="15" fill="#c0c0c0" />
<rect x="339" y="384" width="3" height="18" fill="#c0c0c0" />
<rect x="347" y="383" width="3" height="19" fill="#c0c0c0" />
<rect x="355" y="383" width="3" height="19" fill="#c0c0c0" />
<rect x="363" y="383" width="3" height="19" fill="#c0c0c0" />
<rect x="371" y="382" width="3" height="20" fill="#c0c0c0" />
<rect x="379" y="381" width="3" height="21" fill="#c0c0c0" />
<rect x="387" y="381" width="3" height="21" fill="#c0c0c0" />
<rect x="395" y="381" width="3" height="21" fill="#c0c0c0" />
<rect x="403" y="380" width="3" height="22" fill="#c0c0c0" />
<rect x="411" y="381" width="3" height="21" fill="#c0c0c0" />
<rect x="419" y="381" width="3" height="21" fill="#c0c0c0" />
<rect x="427" y="384" width="3" height="18" fill="#c0c0c0" />
<rect x="435" y="386" width="3" height="16" fill="#c0c0c0" />
<rect x="443" y="390" width="3" height="12" fill="#c0c0c0" />
<rect x="451" y="393" width="3" height="9" fill="#c0c0c0" />
<rect x="459" y="396" width="3" height="6" fill="#c0c0c0" />
<rect x="467" y="397" width="3" height="5" fill="#c0c0c0" />
<rect x="475" y="400" width="3" height="2" fill="#c0c0c0" />
<rect x="483" y="402" width="3" height="2" fill="#c0c0c0" />
<rect x="491" y="402" width="3" height="6" fill="#c0c0c0" />
<rect x="499" y="402" width="3" height="8" fill="#c0c0c0" />
<rect x="507" y="402" width="3" height="9" fill="#c0c0c0" />
<rect x="515" y="402" width="3" height="10" fill="#c0c0c0" />
<rect x="523" y="402" width="3" height="11" fill="#c0c0c0" />
<rect x="531" y="402" width="3" height="14" fill="#c0c0c0" />
<rect x="539" y="402" width="3" height="15" fill="#c0c0c0" />
<rect x="547" y="402" width="3" height="17" fill="#c0c0c0" />
<rect x="555" y="402" width="3" height="19" fill="#c0c0c0" />
<rect x="563" y="402" width="3" height="20" fill="#c0c0c0" />
<rect x="571" y="402" width="3" height="21" fill="#c0c0c0" />
<rect x="579" y="402" width="3" height="22" fill="#c0c0c0" />
<rect x="587" y="402" width="3" height="24" fill="#c0c0c0" />
<rect x="595" y="402" width="3" height="27" fill="#c0c0c0" />
<rect x="603" y="402" width="3" height="28" fill="#c0c0c0" />
<rect x="611" y="402" width="3" height="28" fill="#c0c0c0" />
<rect x="619" y="402" width="3" height="29" fill="#c0c0c0" />
<rect x="627" y="402" width="3" height="30" fill="#c0c0c0" />
<rect x="635" y="402" width="3" height="31" fill="#c0c0c0" />
<rect x="643" y="402" width="3" height="34" fill="#c0c0c0" />
<rect x="651" y="402" width="3" height="36" fill="#c0c0c0" />
<rect x="659" y="402" width="3" height="36" fill="#c0c0c0" />
<rect x="667" y="402" width="3" height="33" fill="#c0c0c0" />
<rect x="675" y="402" width="3" height="29" fill="#c0c0c0" />
<rect x="683" y="402" width="3" height="26" fill="#c0c0c0" />
<rect x="691" y="402" width="3" height="23" fill="#c0c0c0" />
<rect x="699" y="402" width="3" height="20" fill="#c0c0c0" />
<rect x="707" y="402" width="3" height="19" fill="#c0c0c0" />
<rect x="715" y="402" width="3" height="18" fill="#c0c0c0" />
<rect x="723" y="402" width="3" height="16" fill="#c0c0c0" />
<rect x="731" y="402" width="3" height="14" fill="#c0c0c0" />
<rect x="739" y="402" width="3" height="13" fill="#c0c0c0" />
<rect x="747" y="402" width="3" height="13" fill="#c0c0c0" />
<rect x="755" y="402" width="3" height="13" fill="#c0c0c0" />
<rect x="763" y="402" width="3" height="12" fill="#c0c0c0" />
<rect x="771" y="402" width="3" height="9" fill="#c0c0c0" />
<rect x="779" y="402" width="3" height="5" fill="#c0c0c0" />
<rect x="787" y="402" width="3" height="3" fill="#c0c0c0" />
<rect x="795" y="402" width="3" height="1" fill="#c0c0c0" />
<rect x="803" y="400" width="3" height="2" fill="#c0c0c0" />
<rect x="811" y="399" width="3" height="3" fill="#c0c0c0" />
<rect x="819" y="397" width="3" height="5" fill="#c0c0c0" />
<rect x="827" y="396" width="3" height="6" fill="#c0c0c0" />
<rect x="835" y="395" width="3" height="7" fill="#c0c0c0" />
<rect x="843" y="394" width="3" height="8" fill="#c0c0c0" />
<rect x="851" y="395" width="3" height="7" fill="#c0c0c0" />
<rect x="859" y="395" width="3" height="7" fill="#c0c0c0" />
<rect x="867" y="396" width="3" height="6" fill="#c0c0c0" />
<rect x="875" y="399" width="3" height="3" fill="#c0c0c0" />
<rect x="883" y="400" width="3" height="2" fill="#c0c0c0" />
<rect x="891" y="401" width="3" height="1" fill="#c0c0c0" />
<rect x="899" y="402" width="3" height="1" fill="#c0c0c0" />
<rect x="907" y="402" width="3" height="1" fill="#c0c0c0" />
<rect x="915" y="402" width="3" height="1" fill="#c0c0c0" />
<rect x="4" y="418" width="2" height="1" fill="#ff0000" />
<rect x="6" y="417" width="3" height="1" fill="#ff0000" />
<rect x="9" y="416" width="2" height="1" fill="#ff0000" />
<rect x="11" y="415" width="2" height="1" fill="#ff0000" />
<rect x="13" y="414" width="3" height="1" fill="#ff0000" />
<rect x="16" y="413" width="2" height="1" fill="#ff0000" />
<rect x="18" y="412" width="2" height="1" fill="#ff0000" />
<rect x="20" y="411" width="3" height="1" fill="#ff0000" />
<rect x="23" y="410" width="2" height="1" fill="#ff0000" />
<rect x="25" y="409" width="3" height="1" fill="#ff0000" />
<rect x="28" y="408" width="2" height="1" fill="#ff0000" />
<rect x="30" y="407" width="3" height="1" fill="#ff0000" />
<rect x="33" y="406" width="2" height="1" fill="#ff0000" />
<rect x="35" y="405" width="3" height="1" fill="#ff0000" />
<rect x="38" y="404" width="2" height="1" fill="#ff0000" />
<rect x="40" y="403" width="4" height="1" fill="#ff0000" />
<rect x="44" y="402" width="4" height="1" fill="#ff0000" />
<rect x="48" y="401" width="4" height="1" fill="#ff0000" />
<rect x="52" y="400" width="4" height="1" fill="#ff0000" />
<rect x="56" y="399" width="4" height="1" fill="#ff0000" />
<rect x="60" y="398" width="6" height="1" fill="#ff0000" />
<rect x="66" y="397" width="6" height="1" fill="#ff0000" />
<rect x="72" y="396" width="5" height="1" fill="#ff0000" />
<rect x="77" y="395" width="25" height="1" fill="#ff0000" />
<rect x="102" y="396" width="10" height="1" fill="#ff0000" />
<rect x="112" y="397" width="5" height="1" fill="#ff0000" />
<rect x="117" y="398" width="6" height="1" fill="#ff0000" />
<rect x="123" y="399" width="5" height="1" fill="#ff0000" />
<rect x="128" y="400" width="5" height="1" fill="#ff0000" />
<rect x="133" y="401" width="5" height="1" fill="#ff0000" />
<rect x="138" y="402" width="5" height="1" fill="#ff0000" />
<rect x="143" y="403" width="5" height="1" fill="#ff0000" />
<rect x="148" y="404" width="5" height="1" fill="#ff0000" />
<rect x="153" y="405" width="5" height="1" fill="#ff0000" />
<rect x="158" y="406" width="5" height="1" fill="#ff0000" />
<rect x="163" y="407" width="6" height="1" fill="#ff0000" />
<rect x="169" y="408" width="7" height="1" fill="#ff0000" />
<rect x="176" y="409" width="8" height="1" fill="#ff0000" />
<rect x="184" y="410" width="8" height="1" fill="#ff0000" />
<rect x="192" y="411" width="9" height="1" fill="#ff0000" />
<rect x="201" y="412" width="43" height="1" fill="#ff0000" />
<rect x="244" y="411" width="12" height="1" fill="#ff0000" />
<rect x="256" y="410" width="5" height="1" fill="#ff0000" />
<rect x="261" y="409" width="6" height="1" fill="#ff0000" />
<rect x="267" y="408" width="5" height="1" fill="#ff0000" />
<rect x="272" y="407" width="7" height="1" fill="#ff0000" />
<rect x="279" y="406" width="8" height="1" fill="#ff0000" />
<rect x="287" y="405" width="5" height="1" fill="#ff0000" />
<rect x="292" y="404" width="5" height="1" fill="#ff0000" />
<rect x="297" y="403" width="4" height="1" fill="#ff0000" />
<rect x="301" y="402" width="4" height="1" fill="#ff0000" />
<rect x="305" y="401" width="4" height="1" fill="#ff0000" />
<rect x="309" y="400" width="5" height="1" fill="#ff0000" />
<rect x="314" y="399" width="5" height="1" fill="#ff0000" />
<rect x="319" y="398" width="6" height="1" fill="#ff0000" />
<rect x="325" y="397" width="5" height="1" fill="#ff0000" />
<rect x="330" y="396" width="3" height="1" fill="#ff0000" />
<rect x="333" y="395" width="3" height="1" fill="#ff0000" />
<rect x="336" y="394" width="2" height="1" fill="#ff0000" />
<rect x="338" y="393" width="3" height="1" fill="#ff0000" />
<rect x="341" y="392" width="5" height="1" fill="#ff0000" />
<rect x="346" y="391" width="5" height="1" fill="#ff0000" />
<rect x="351" y="390" width="4" height="1" fill="#ff0000" />
<rect x="355" y="389" width="5" height="1" fill="#ff0000" />
<rect x="360" y="388" width="5" height="1" fill="#ff0000" />
<rect x="365" y="387" width="5" height="1" fill="#ff0000" />
<rect x="370" y="386" width="6" height="1" fill="#ff0000" />
<rect x="376" y="385" width="8" height="1" fill="#ff0000" />
<rect x="384" y="384" width="8" height="1" fill="#ff0000" />
<rect x="392" y="383" width="8" height="1" fill="#ff0000" />
<rect x="400" y="382" width="43" height="1" fill="#ff0000" />
<rect x="443" y="383" width="5" height="1" fill="#ff0000" />
<rect x="448" y="384" width="5" height="1" fill="#ff0000" />
<rect x="453" y="385" width="6" height="1" fill="#ff0000" />
<rect x="459" y="386" width="4" height="1" fill="#ff0000" />
<rect x="463" y="387" width="5" height="1" fill="#ff0000" />
<rect x="468" y="388" width="4" height="1" fill="#ff0000" />
<rect x="472" y="389" width="4" height="1" fill="#ff0000" />
<rect x="476" y="390" width="3" height="1" fill="#ff0000" />
<rect x="479" y="391" width="4" height="1" fill="#ff0000" />
<rect x="483" y="392" width="3" height="1" fill="#ff0000" />
<rect x="486" y="393" width="3" height="1" fill="#ff0000" />
<rect x="489" y="394" width="2" height="1" fill="#ff0000" />
<rect x="491" y="395" width="3" height="1" fill="#ff0000" />
<rect x="494" y="396" width="3" height="1" fill="#ff0000" />
<rect x="497" y="397" width="2" height="1" fill="#ff0000" />
<rect x="499" y="398" width="3" height="1" fill="#ff0000" />
<rect x="502" y="399" width="3" height="1" fill="#ff0000" />
<rect x="505" y="400" width="4" height="1" fill="#ff0000" />
<rect x="509" y="401" width="3" height="1" fill="#ff0000" />
<rect x="512" y="402" width="3" height="1" fill="#ff0000" />
<rect x="515" y="403" width="4" height="1" fill="#ff0000" />
<rect x="519" y="404" width="4" height="1" fill="#ff0000" />
<rect x="523" y="405" width="4" height="1" fill="#ff0000" />
<rect x="527" y="406" width="5" height="1" fill="#ff0000" />
<rect x="532" y="407" width="4" height="1" fill="#ff0000" />
<rect x="536" y="408" width="5" height="1" fill="#ff0000" />
<rect x="541" y="409" width="3" height="1" fill="#ff0000" />
<rect x="544" y="410" width="4" height="1" fill="#ff0000" />
<rect x="548" y="411" width="3" height="1" fill="#ff0000" />
<rect x="551" y="412" width="4" height="1" fill="#ff0000" />
<rect x="555" y="413" width="3" height="1" fill="#ff0000" />
<rect x="558" y="414" width="5" height="1" fill="#ff0000" />
<rect x="563" y="415" width="5" height="1" fill="#ff0000" />
<rect x="568" y="416" width="6" height="1" fill="#ff0000" />
<rect x="574" y="417" width="5" height="1" fill="#ff0000" />
<rect x="579" y="418" width="5" height="1" fill="#ff0000" />
<rect x="584" y="419" width="6" height="1" fill="#ff0000" />
<rect x="590" y="420" width="6" height="1" fill="#ff0000" />
<rect x="596" y="421" width="5" height="1" fill="#ff0000" />
<rect x="601" y="422" width="6" height="1" fill="#ff0000" />
<rect x="607" y="423" width="5" height="1" fill="#ff0000" />
<rect x="612" y="424" width="6" height="1" fill="#ff0000" />
<rect x="618" y="425" width="5" height="1" fill="#ff0000" />
<rect x="623" y="426" width="6" height="1" fill="#ff0000" />
<rect x="629" y="427" width="6" height="1" fill="#ff0000" />
<rect x="635" y="428" width="6" height="1" fill="#ff0000" />
<rect x="641" y="429" width="4" height="1" fill="#ff0000" />
<rect x="645" y="430" width="5" height="1" fill="#ff0000" />
<rect x="650" y="431" width="7" height="1" fill="#ff0000" />
<rect x="657" y="432" width="8" height="1" fill="#ff0000" />
<rect x="665" y="433" width="19" height="1" fill="#ff0000" />
<rect x="684" y="432" width="9" height="1" fill="#ff0000" />
<rect x="693" y="431" width="6" height="1" fill="#ff0000" />
<rect x="699" y="430" width="4" height="1" fill="#ff0000" />
<rect x="703" y="429" width="4" height="1" fill="#ff0000" />
<rect x="707" y="428" width="4" height="1" fill="#ff0000" />
<rect x="711" y="427" width="3" height="1" fill="#ff0000" />
<rect x="714" y="426" width="4" height="1" fill="#ff0000" />
<rect x="718" y="425" width="4" height="1" fill="#ff0000" />
<rect x="722" y="424" width="4" height="1" fill="#ff0000" />
<rect x="726" y="423" width="3" height="1" fill="#ff0000" />
<rect x="729" y="422" width="5" height="1" fill="#ff0000" />
<rect x="734" y="421" width="5" height="1" fill="#ff0000" />
<rect x="739" y="420" width="5" height="1" fill="#ff0000" />
<rect x="744" y="419" width="5" height="1" fill="#ff0000" />
<rect x="749" y="418" width="6" height="1" fill="#ff0000" />
<rect x="755" y="417" width="7" height="1" fill="#ff0000" />
<rect x="762" y="416" width="6" height="1" fill="#ff0000" />
<rect x="768" y="415" width="7" height="1" fill="#ff0000" />
<rect x="775" y="414" width="6" height="1" fill="#ff0000" />
<rect x="781" y="413" width="5" height="1" fill="#ff0000" />
<rect x="786" y="412" width="4" height="1" fill="#ff0000" />
<rect x="790" y="411" width="5" height="1" fill="#ff0000" />
<rect x="795" y="410" width="4" height="1" fill="#ff0000" />
<rect x="799" y="409" width="5" height="1" fill="#ff0000" />
<rect x="804" y="408" width="4" height="1" fill="#ff0000" />
<rect x="808" y="407" width="4" height="1" fill="#ff0000" />
<rect x="812" y="406" width="5" height="1" fill="#ff0000" />
<rect x="817" y="405" width="4" height="1" fill="#ff0000" />
<rect x="821" y="404" width="4" height="1" fill="#ff0000" />
<rect x="825" y="403" width="4" height="1" fill="#ff0000" />
<rect x="829" y="402" width="4" height="1" fill="#ff0000" />
<rect x="833" y="401" width="4" height="1" fill="#ff0000" />
<rect x="837" y="400" width="5" height="1" fill="#ff0000" />
<rect x="842" y="399" width="5" height="1" fill="#ff0000" />
<rect x="847" y="398" width="7" height="1" fill="#ff0000" />
<rect x="854" y="397" width="8" height="1" fill="#ff0000" />
<rect x="862" y="396" width="29" height="1" fill="#ff0000" />
<rect x="891" y="397" width="17" height="1" fill="#ff0000" />
<rect x="908" y="398" width="6" height="1" fill="#ff0000" />
<rect x="914" y="399" width="3" height="1" fill="#ff0000" />
<rect x="5" y="463" width="3" height="1" fill="#c0c0c0" />
<rect x="11" y="463" width="3" height="1" fill="#c0c0c0" />
<rect x="17" y="463" width="3" height="1" fill="#c0c0c0" />
<rect x="23" y="463" width="3" height="1" fill="#c0c0c0" />
<rect x="29" y="463" width="3" height="1" fill="#c0c0c0" />
<rect x="35" y="463" width="3" height="1" fill="#c0c0c0" />
<rect x="41" y="463" width="3" height="1" fill="#c0c0c0" />
<rect x="47" y="463" width="3" height="1" fill="#c0c0c0" />
<rect x="53" y="463" width="3" height="1" fill="#c0c0c0" />
<rect x="59" y="463" width="3" height="1" fill="#c0c0c0" />
<rect x="65" y="463" width="3" height="1" fill="#c0c0c0" />
<rect x="71" y="463" width="3" height="1" fill="#c0c0c0" />
<rect x="77" y="463" width="3" height="1" fill="#c0c0c0" />
<rect x="83" y="463" width="3" height="1" fill="#c0c0c0" />
<rect x="89" y="463" width="3" height="1" fill="#c0c0c0" />
<rect x="95" y="463" width="3" height="1" fill="#c0c0c0" />
<rect x="101" y="463" width="3" height="1" fill="#c0c0c0" />
<rect x="107" y="463" width="3" height="1" fill="#c0c0c0" />
<rect x="113" y="463" width="3" height="1" fill="#c0c0c0" />
<rect x="119" y="463" width="3" height="1" fill="#c0c0c0" />
<rect x="125" y="463" width="3" height="1" fill="#c0c0c0" />
<rect x="131" y="463" width="3" height="1" fill="#c0c0c0" />
<rect x="137" y="463" width="3" height="1" fill="#c0c0c0" />
<rect x="143" y="463" width="3" height="1" fill="#c0c0c0" />
<rect x="149" y="463" width="3" height="1" fill="#c0c0c0" />
<rect x="155" y="463" width="3" height="1" fill="#c0c0c0" />
<rect x="161" y="463" width="3" height="1" fill="#c0c0c0" />
<rect x="167" y="463" width="3" height="1" fill="#c0c0c0" />
<rect x="173" y="463" width="3" height="1" fill="#c0c0c0" />
<rect x="179" y="463" width="3" height="1" fill="#c0c0c0" />
<rect x="185" y="463" width="3" height="1" fill="#c0c0c0" />
<rect x="191" y="463" width="3" height="1" fill="#c0c0c0" />
<rect x="197" y="463" width="3" height="1" fill="#c0c0c0" />
<rect x="203" y="463" width="3" height="1" fill="#c0c0c0" />
<rect x="209" y="463" width="3" height="1" fill="#c0c0c0" />
<rect x="215" y="463" width="3" height="1" fill="#c0c0c0" />
<rect x="221" y="463" width="3" height="1" fill="#c0c0c0" />
<rect x="227" y="463" width="3" height="1" fill="#c0c0c0" />
<rect x="233" y="463" width="3" height="1" fill="#c0c0c0" />
<rect x="239" y="463" width="3" height="1" fill="#c0c0c0" />
<rect x="245" y="463" width="3" height="1" fill="#c0c0c0" />
<rect x="251" y="463" width="3" height="1" fill="#c0c0c0" />
<rect x="257" y="463" width="3" height="1" fill="#c0c0c0" />
<rect x="263" y="463" width="3" height="1" fill="#c0c0c0" />
<rect x="269" y="463" width="3" height="1" fill="#c0c0c0" />
<rect x="275" y="463" width="3" height="1" fill="#c0c0c0" />
<rect x="281" y="463" width="3" height="1" fill="#c0c0c0" />
<rect x="287" y="463" width="3" height="1" fill="#c0c0c0" />
<rect x="293" y="463" width="3" height="1" fill="#c0c0c0" />
<rect x="299" y="463" width="3" height="1" fill="#c0c0c0" />
<rect x="305" y="463" width="3" height="1" fill="#c0c0c0" />
<rect x="311" y="463" width="3" height="1" fill="#c0c0c0" />
<rect x="317" y="463" width="3" height="1" fill="#c0c0c0" />
<rect x="323" y="463" width="3" height="1" fill="#c0c0c0" />
<rect x="329" y="463" width="3" height="1" fill="#c0c0c0" />
<rect x="335" y="463" width="3" height="1" fill="#c0c0c0" />
<rect x="341" y="463" width="3" height="1" fill="#c0c0c0" />
<rect x="347" y="463" width="3" height="1" fill="#c0c0c0" />
<rect x="353" y="463" width="3" height="1" fill="#c0c0c0" />
<rect x="359" y="463" width="3" height="1" fill="#c0c0c0" />
<rect x="365" y="463" width="3" height="1" fill="#c0c0c0" />
<rect x="371" y="463" width="3" height="1" fill="#c0c0c0" />
<rect x="377" y="463" width="3" height="1" fill="#c0c0c0" />
<rect x="383" y="463" width="3" height="1" fill="#c0c0c0" />
<rect x="389" y="463" width="3" height="1" fill="#c0c0c0" />
<rect x="395" y="463" width="3" height="1" fill="#c0c0c0" />
<rect x="401" y="463" width="3" height="1" fill="#c0c0c0" />
<rect x="407" y="463" width="3" height="1" fill="#c0c0c0" />
<rect x="413" y="463" width="3" height="1" fill="#c0c0c0" />
<rect x="419" y="463" width="3" height="1" fill="#c0c0c0" />
<rect x="425" y="463" width="3" height="1" fill="#c0c0c0" />
<rect x="431" y="463" width="3" height="1" fill="#c0c0c0" />
<rect x="437" y="463" width="3" height="1" fill="#c0c0c0" />
<rect x="443" y="463" width="3" height="1" fill="#c0c0c0" />
<rect x="449" y="463" width="3" height="1" fill="#c0c0c0" />
<rect x="455" y="463" width="3" height="1" fill="#c0c0c0" />
<rect x="461" y="463" width="3" height="1" fill="#c0c0c0" />
<rect x="467" y="463" width="3" height="1" fill="#c0c0c0" />
<rect x="473" y="463" width="3" height="1" fill="#c0c0c0" />
<rect x="479" y="463" width="3" height="1" fill="#c0c0c0" />
<rect x="485" y="463" width="3" height="1" fill="#c0c0c0" />
<rect x="491" y="463" width="3" height="1" fill="#c0c0c0" />
<rect x="497" y="463" width="3" height="1" fill="#c0c0c0" />
<rect x="503" y="463" width="3" height="1" fill="#c0c0c0" />
<rect x="509" y="463" width="3" height="1" fill="#c0c0c0" />
<rect x="515" y="463" width="3" height="1" fill="#c0c0c0" />
<rect x="521" y="463" width="3" height="1" fill="#c0c0c0" />
<rect x="527" y="463" width="3" height="1" fill="#c0c0c0" />
<rect x="533" y="463" width="3" height="1" fill="#c0c0c0" />
<rect x="539" y="463" width="3" height="1" fill="#c0c0c0" />
<rect x="545" y="463" width="3" height="1" fill="#c0c0c0" />
<rect x="551" y="463" width="3" height="1" fill="#c0c0c0" />
<rect x="557" y="463" width="3" height="1" fill="#c0c0c0" />
<rect x="563" y="463" width="3" height="1" fill="#c0c0c0" />
<rect x="569" y="463" width="3" height="1" fill="#c0c0c0" />
<rect x="575" y="463" width="3" height="1" fill="#c0c0c0" />
<rect x="581" y="463" width="3" height="1" fill="#c0c0c0" />
<rect x="587" y="463" width="3" height="1" fill="#c0c0c0" />
<rect x="593" y="463" width="3" height="1" fill="#c0c0c0" />
<rect x="599" y="463" width="3" height="1" fill="#c0c0c0" />
<rect x="605" y="463" width="3" height="1" fill="#c0c0c0" />
<rect x="611" y="463" width="3" height="1" fill="#c0c0c0" />
<rect x="617" y="463" width="3" height="1" fill="#c0c0c0" />
<rect x="623" y="463" width="3" height="1" fill="#c0c0c0" />
<rect x="629" y="463" width="3" height="1" fill="#c0c0c0" />
<rect x="635" y="463" width="3" height="1" fill="#c0c0c0" />
<rect x="641" y="463" width="3" height="1" fill="#c0c0c0" />
<rect x="647" y="463" width="3" height="1" fill="#c0c0c0" />
<rect x="653" y="463" width="3" height="1" fill="#c0c0c0" />
<rect x="659" y="463" width="3" height="1" fill="#c0c0c0" />
<rect x="665" y="463" width="3" height="1" fill="#c0c0c0" />
<rect x="671" y="463" width="3" height="1" fill="#c0c0c0" />
<rect x="677" y="463" width="3" height="1" fill="#c0c0c0" />
<rect x="683" y="463" width="3" height="1" fill="#c0c0c0" />
<rect x="689" y="463" width="3" height="1" fill="#c0c0c0" />
<rect x="695" y="463" width="3" height="1" fill="#c0c0c0" />
<rect x="701" y="463" width="3" height="1" fill="#c0c0c0" />
<rect x="707" y="463" width="3" height="1" fill="#c0c0c0" />
<rect x="713" y="463" width="3" height="1" fill="#c0c0c0" />
<rect x="719" y="463" width="3" height="1" fill="#c0c0c0" />
<rect x="725" y="463" width="3" height="1" fill="#c0c0c0" />
<rect x="731" y="463" width="3" height="1" fill="#c0c0c0" />
<rect x="737" y="463" width="3" height="1" fill="#c0c0c0" />
<rect x="743" y="463" width="3" height="1" fill="#c0c0c0" />
<rect x="749" y="463" width="3" height="1" fill="#c0c0c0" />
<rect x="755" y="463" width="3" height="1" fill="#c0c0c0" />
<rect x="761" y="463" width="3" height="1" fill="#c0c0c0" />
<rect x="767" y="463" width="3" height="1" fill="#c0c0c0" />
<rect x="773" y="463" width="3" height="1" fill="#c0c0c0" />
<rect x="779" y="463" width="3" height="1" fill="#c0c0c0" />
<rect x="785" y="463" width="3" height="1" fill="#c0c0c0" />
<rect x="791" y="463" width="3" height="1" fill="#c0c0c0" />
<rect x="797" y="463" width="3" height="1" fill="#c0c0c0" />
<rect x="803" y="463" width="3" height="1" fill="#c0c0c0" />
<rect x="809" y="463" width="3" height="1" fill="#c0c0c0" />
<rect x="815" y="463" width="3" height="1" fill="#c0c0c0" />
<rect x="821" y="463" width="3" height="1" fill="#c0c0c0" />
<rect x="827" y="463" width="3" height="1" fill="#c0c0c0" />
<rect x="833" y="463" width="3" height="1" fill="#c0c0c0" />
<rect x="839" y="463" width="3" height="1" fill="#c0c0c0" />
<rect x="845" y="463" width="3" height="1" fill="#c0c0c0" />
<rect x="851" y="463" width="3" height="1" fill="#c0c0c0" />
<rect x="857" y="463" width="3" height="1" fill="#c0c0c0" />
<rect x="863" y="463" width="3" height="1" fill="#c0c0c0" />
<rect x="869" y="463" width="3" height="1" fill="#c0c0c0" />
<rect x="875" y="463" width="3" height="1" fill="#c0c0c0" />
<rect x="881" y="463" width="3" height="1" fill="#c0c0c0" />
<rect x="887" y="463" width="3" height="1" fill="#c0c0c0" />
<rect x="893" y="463" width="3" height="1" fill="#c0c0c0" />
<rect x="899" y="463" width="3" height="1" fill="#c0c0c0" />
<rect x="905" y="463" width="3" height="1" fill="#c0c0c0" />
<rect x="911" y="463" width="3" height="1" fill="#c0c0c0" />
<rect x="917" y="463" width="3" height="1" fill="#c0c0c0" />
<rect x="923" y="463" width="3" height="1" fill="#c0c0c0" />
<rect x="929" y="463" width="3" height="1" fill="#c0c0c0" />
<rect x="935" y="463" width="3" height="1" fill="#c0c0c0" />
<rect x="941" y="463" width="3" height="1" fill="#c0c0c0" />
<rect x="947" y="463" width="3" height="1" fill="#c0c0c0" />
<rect x="953" y="463" width="3" height="1" fill="#c0c0c0" />
<rect x="959" y="463" width="3" height="1" fill="#c0c0c0" />
<rect x="965" y="463" width="3" height="1" fill="#c0c0c0" />
<rect x="971" y="463" width="3" height="1" fill="#c0c0c0" />
<rect x="977" y="463" width="3" height="1" fill="#c0c0c0" />
<rect x="983" y="463" width="3" height="1" fill="#c0c0c0" />
<rect x="989" y="463" width="3" height="1" fill="#c0c0c0" />
<rect x="995" y="463" width="3" height="1" fill="#c0c0c0" />
<rect x="1001" y="463" width="3" height="1" fill="#c0c0c0" />
<rect x="1007" y="463" width="3" height="1" fill="#c0c0c0" />
<rect x="1013" y="463" width="3" height="1" fill="#c0c0c0" />
<rect x="1019" y="463" width="3" height="1" fill="#c0c0c0" />
<rect x="1025" y="463" width="3" height="1" fill="#c0c0c0" />
<rect x="1031" y="463" width="3" height="1" fill="#c0c0c0" />
<rect x="1037" y="463" width="3" height="1" fill="#c0c0c0" />
<rect x="1043" y="463" width="3" height="1" fill="#c0c0c0" />
<rect x="1049" y="463" width="3" height="1" fill="#c0c0c0" />
<rect x="1055" y="463" width="3" height="1" fill="#c0c0c0" />
<rect x="1061" y="463" width="3" height="1" fill="#c0c0c0" />
<rect x="1067" y="463" width="3" height="1" fill="#c0c0c0" />
<rect x="1073" y="463" width="3" height="1" fill="#c0c0c0" />
<rect x="1079" y="463" width="3" height="1" fill="#c0c0c0" />
<rect x="1085" y="463" width="3" height="1" fill="#c0c0c0" />
<rect x="1091" y="463" width="3" height="1" fill="#c0c0c0" />
<rect x="1097" y="463" width="3" height="1" fill="#c0c0c0" />
<rect x="1103" y="463" width="3" height="1" fill="#c0c0c0" />
<rect x="1109" y="463" width="3" height="1" fill="#c0c0c0" />
<rect x="1115" y="463" width="3" height="1" fill="#c0c0c0" />
<rect x="1121" y="463" width="3" height="1" fill="#c0c0c0" />
<rect x="1127" y="463" width="3" height="1" fill="#c0c0c0" />
<rect x="1133" y="463" width="3" height="1" fill="#c0c0c0" />
<rect x="1139" y="463" width="3" height="1" fill="#c0c0c0" />
<rect x="1145" y="463" width="3" height="1" fill="#c0c0c0" />
<rect x="1151" y="463" width="3" height="1" fill="#c0c0c0" />
<rect x="1157" y="463" width="3" height="1" fill="#c0c0c0" />
<rect x="1163" y="463" width="3" height="1" fill="#c0c0c0" />
<rect x="5" y="488" width="3" height="1" fill="#c0c0c0" />
<rect x="11" y="488" width="3" height="1" fill="#c0c0c0" />
<rect x="17" y="488" width="3" height="1" fill="#c0c0c0" />
<rect x="23" y="488" width="3" height="1" fill="#c0c0c0" />
<rect x="29" y="488" width="3" height="1" fill="#c0c0c0" />
<rect x="35" y="488" width="3" height="1" fill="#c0c0c0" />
<rect x="41" y="488" width="3" height="1" fill="#c0c0c0" />
<rect x="47" y="488" width="3" height="1" fill="#c0c0c0" />
<rect x="53" y="488" width="3" height="1" fill="#c0c0c0" />
<rect x="59" y="488" width="3" height="1" fill="#c0c0c0" />
<rect x="65" y="488" width="3" height="1" fill="#c0c0c0" />
<rect x="71" y="488" width="3" height="1" fill="#c0c0c0" />
<rect x="77" y="488" width="3" height="1" fill="#c0c0c0" />
<rect x="83" y="488" width="3" height="1" fill="#c0c0c0" />
<rect x="89" y="488" width="3" height="1" fill="#c0c0c0" />
<rect x="95" y="488" width="3" height="1" fill="#c0c0c0" />
<rect x="101" y="488" width="3" height="1" fill="#c0c0c0" />
<rect x="107" y="488" width="3" height="1" fill="#c0c0c0" />
<rect x="113" y="488" width="3" height="1" fill="#c0c0c0" />
<rect x="119" y="488" width="3" height="1" fill="#c0c0c0" />
<rect x="125" y="488" width="3" height="1" fill="#c0c0c0" />
<rect x="131" y="488" width="3" height="1" fill="#c0c0c0" />
<rect x="137" y="488" width="3" height="1" fill="#c0c0c0" />
<rect x="143" y="488" width="3" height="1" fill="#c0c0c0" />
<rect x="149" y="488" width="3" height="1" fill="#c0c0c0" />
<rect x="155" y="488" width="3" height="1" fill="#c0c0c0" />
<rect x="161" y="488" width="3" height="1" fill="#c0c0c0" />
<rect x="167" y="488" width="3" height="1" fill="#c0c0c0" />
<rect x="173" y="488" width="3" height="1" fill="#c0c0c0" />
<rect x="179" y="488" width="3" height="1" fill="#c0c0c0" />
<rect x="185" y="488" width="3" height="1" fill="#c0c0c0" />
<rect x="191" y="488" width="3" height="1" fill="#c0c0c0" />
<rect x="197" y="488" width="3" height="1" fill="#c0c0c0" />
<rect x="203" y="488" width="3" height="1" fill="#c0c0c0" />
<rect x="209" y="488" width="3" height="1" fill="#c0c0c0" />
<rect x="215" y="488" width="3" height="1" fill="#c0c0c0" />
<rect x="221" y="488" width="3" height="1" fill="#c0c0c0" />
<rect x="227" y="488" width="3" height="1" fill="#c0c0c0" />
<rect x="233" y="488" width="3" height="1" fill="#c0c0c0" />
<rect x="239" y="488" width="3" height="1" fill="#c0c0c0" />
<rect x="245" y="488" width="3" height="1" fill="#c0c0c0" />
<rect x="251" y="488" width="3" height="1" fill="#c0c0c0" />
<rect x="257" y="488" width="3" height="1" fill="#c0c0c0" />
<rect x="263" y="488" width="3" height="1" fill="#c0c0c0" />
<rect x="269" y="488" width="3" height="1" fill="#c0c0c0" />
<rect x="275" y="488" width="3" height="1" fill="#c0c0c0" />
<rect x="281" y="488" width="3" height="1" fill="#c0c0c0" />
<rect x="287" y="488" width="3" height="1" fill="#c0c0c0" />
<rect x="293" y="488" width="3" height="1" fill="#c0c0c0" />
<rect x="299" y="488" width="3" height="1" fill="#c0c0c0" />
<rect x="305" y="488" width="3" height="1" fill="#c0c0c0" />
<rect x="311" y="488" width="3" height="1" fill="#c0c0c0" />
<rect x="317" y="488" width="3" height="1" fill="#c0c0c0" />
<rect x="323" y="488" width="3" height="1" fill="#c0c0c0" />
<rect x="329" y="488" width="3" height="1" fill="#c0c0c0" />
<rect x="335" y="488" width="3" height="1" fill="#c0c0c0" />
<rect x="341" y="488" width="3" height="1" fill="#c0c0c0" />
<rect x="347" y="488" width="3" height="1" fill="#c0c0c0" />
<rect x="353" y="488" width="3" height="1" fill="#c0c0c0" />
<rect x="359" y="488" width="3" height="1" fill="#c0c0c0" />
<rect x="365" y="488" width="3" height="1" fill="#c0c0c0" />
<rect x="371" y="488" width="3" height="1" fill="#c0c0c0" />
<rect x="377" y="488" width="3" height="1" fill="#c0c0c0" />
<rect x="383" y="488" width="3" height="1" fill="#c0c0c0" />
<rect x="389" y="488" width="3" height="1" fill="#c0c0c0" />
<rect x="395" y="488" width="3" height="1" fill="#c0c0c0" />
<rect x="401" y="488" width="3" height="1" fill="#c0c0c0" />
<rect x="407" y="488" width="3" height="1" fill="#c0c0c0" />
<rect x="413" y="488" width="3" height="1" fill="#c0c0c0" />
<rect x="419" y="488" width="3" height="1" fill="#c0c0c0" />
<rect x="425" y="488" width="3" height="1" fill="#c0c0c0" />
<rect x="431" y="488" width="3" height="1" fill="#c0c0c0" />
<rect x="437" y="488" width="3" height="1" fill="#c0c0c0" />
<rect x="443" y="488" width="3" height="1" fill="#c0c0c0" />
<rect x="449" y="488" width="3" height="1" fill="#c0c0c0" />
<rect x="455" y="488" width="3" height="1" fill="#c0c0c0" />
<rect x="461" y="488" width="3" height="1" fill="#c0c0c0" />
<rect x="467" y="488" width="3" height="1" fill="#c0c0c0" />
<rect x="473" y="488" width="3" height="1" fill="#c0c0c0" />
<rect x="479" y="488" width="3" height="1" fill="#c0c0c0" />
<rect x="485" y="488" width="3" height="1" fill="#c0c0c0" />
<rect x="491" y="488" width="3" height="1" fill="#c0c0c0" />
<rect x="497" y="488" width="3" height="1" fill="#c0c0c0" />
<rect x="503" y="488" width="3" height="1" fill="#c0c0c0" />
<rect x="509" y="488" width="3" height="1" fill="#c0c0c0" />
<rect x="515" y="488" width="3" height="1" fill="#c0c0c0" />
<rect x="521" y="488" width="3" height="1" fill="#c0c0c0" />
<rect x="527" y="488" width="3" height="1" fill="#c0c0c0" />
<rect x="533" y="488" width="3" height="1" fill="#c0c0c0" />
<rect x="539" y="488" width="3" height="1" fill="#c0c0c0" />
<rect x="545" y="488" width="3" height="1" fill="#c0c0c0" />
<rect x="551" y="488" width="3" height="1" fill="#c0c0c0" />
<rect x="557" y="488" width="3" height="1" fill="#c0c0c0" />
<rect x="563" y="488" width="3" height="1" fill="#c0c0c0" />
<rect x="569" y="488" width="3" height="1" fill="#c0c0c0" />
<rect x="575" y="488" width="3" height="1" fill="#c0c0c0" />
<rect x="581" y="488" width="3" height="1" fill="#c0c0c0" />
<rect x="587" y="488" width="3" height="1" fill="#c0c0c0" />
<rect x="593" y="488" width="3" height="1" fill="#c0c0c0" />
<rect x="599" y="488" width="3" height="1" fill="#c0c0c0" />
<rect x="605" y="488" width="3" height="1" fill="#c0c0c0" />
<rect x="611" y="488" width="3" height="1" fill="#c0c0c0" />
<rect x="617" y="488" width="3" height="1" fill="#c0c0c0" />
<rect x="623" y="488" width="3" height="1" fill="#c0c0c0" />
<rect x="629" y="488" width="3" height="1" fill="#c0c0c0" />
<rect x="635" y="488" width="3" height="1" fill="#c0c0c0" />
<rect x="641" y="488" width="3" height="1" fill="#c0c0c0" />
<rect x="647" y="488" width="3" height="1" fill="#c0c0c0" />
<rect x="653" y="488" width="3" height="1" fill="#c0c0c0" />
<rect x="659" y="488" width="3" height="1" fill="#c0c0c0" />
<rect x="665" y="488" width="3" height="1" fill="#c0c0c0" />
<rect x="671" y="488" width="3" height="1" fill="#c0c0c0" />
<rect x="677" y="488" width="3" height="1" fill="#c0c0c0" />
<rect x="683" y="488" width="3" height="1" fill="#c0c0c0" />
<rect x="689" y="488" width="3" height="1" fill="#c0c0c0" />
<rect x="695" y="488" width="3" height="1" fill="#c0c0c0" />
<rect x="701" y="488" width="3" height="1" fill="#c0c0c0" />
<rect x="707" y="488" width="3" height="1" fill="#c0c0c0" />
<rect x="713" y="488" width="3" height="1" fill="#c0c0c0" />
<rect x="719" y="488" width="3" height="1" fill="#c0c0c0" />
<rect x="725" y="488" width="3" height="1" fill="#c0c0c0" />
<rect x="731" y="488" width="3" height="1" fill="#c0c0c0" />
<rect x="737" y="488" width="3" height="1" fill="#c0c0c0" />
<rect x="743" y="488" width="3" height="1" fill="#c0c0c0" />
<rect x="749" y="488" width="3" height="1" fill="#c0c0c0" />
<rect x="755" y="488" width="3" height="1" fill="#c0c0c0" />
<rect x="761" y="488" width="3" height="1" fill="#c0c0c0" />
<rect x="767" y="488" width="3" height="1" fill="#c0c0c0" />
<rect x="773" y="488" width="3" height="1" fill="#c0c0c0" />
<rect x="779" y="488" width="3" height="1" fill="#c0c0c0" />
<rect x="785" y="488" width="3" height="1" fill="#c0c0c0" />
<rect x="791" y="488" width="3" height="1" fill="#c0c0c0" />
<rect x="797" y="488" width="3" height="1" fill="#c0c0c0" />
<rect x="803" y="488" width="3" height="1" fill="#c0c0c0" />
<rect x="809" y="488" width="3" height="1" fill="#c0c0c0" />
<rect x="815" y="488" width="3" height="1" fill="#c0c0c0" />
<rect x="821" y="488" width="3" height="1" fill="#c0c0c0" />
<rect x="827" y="488" width="3" height="1" fill="#c0c0c0" />
<rect x="833" y="488" width="3" height="1" fill="#c0c0c0" />
<rect x="839" y="488" width="3" height="1" fill="#c0c0c0" />
<rect x="845" y="488" width="3" height="1" fill="#c0c0c0" />
<rect x="851" y="488" width="3" height="1" fill="#c0c0c0" />
<rect x="857" y="488" width="3" height="1" fill="#c0c0c0" />
<rect x="863" y="488" width="3" height="1" fill="#c0c0c0" />
<rect x="869" y="488" width="3" height="1" fill="#c0c0c0" />
<rect x="875" y="488" width="3" height="1" fill="#c0c0c0" />
<rect x="881" y="488" width="3" height="1" fill="#c0c0c0" />
<rect x="887" y="488" width="3" height="1" fill="#c0c0c0" />
<rect x="893" y="488" width="3" height="1" fill="#c0c0c0" />
<rect x="899" y="488" width="3" height="1" fill="#c0c0c0" />
<rect x="905" y="488" width="3" height="1" fill="#c0c0c0" />
<rect x="911" y="488" width="3" height="1" fill="#c0c0c0" />
<rect x="917" y="488" width="3" height="1" fill="#c0c0c0" />
<rect x="923" y="488" width="3" height="1" fill="#c0c0c0" />
<rect x="929" y="488" width="3" height="1" fill="#c0c0c0" />
<rect x="935" y="488" width="3" height="1" fill="#c0c0c0" />
<rect x="941" y="488" width="3" height="1" fill="#c0c0c0" />
<rect x="947" y="488" width="3" height="1" fill="#c0c0c0" />
<rect x="953" y="488" width="3" height="1" fill="#c0c0c0" />
<rect x="959" y="488" width="3" height="1" fill="#c0c0c0" />
<rect x="965" y="488" width="3" height="1" fill="#c0c0c0" />
<rect x="971" y="488" width="3" height="1" fill="#c0c0c0" />
<rect x="977" y="488" width="3" height="1" fill="#c0c0c0" />
<rect x="983" y="488" width="3" height="1" fill="#c0c0c0" />
<rect x="989" y="488" width="3" height="1" fill="#c0c0c0" />
<rect x="995" y="488" width="3" height="1" fill="#c0c0c0" />
<rect x="1001" y="488" width="3" height="1" fill="#c0c0c0" />
<rect x="1007" y="488" width="3" height="1" fill="#c0c0c0" />
<rect x="1013" y="488" width="3" height="1" fill="#c0c0c0" />
<rect x="1019" y="488" width="3" height="1" fill="#c0c0c0" />
<rect x="1025" y="488" width="3" height="1" fill="#c0c0c0" />
<rect x="1031" y="488" width="3" height="1" fill="#c0c0c0" />
<rect x="1037" y="488" width="3" height="1" fill="#c0c0c0" />
<rect x="1043" y="488" width="3" height="1" fill="#c0c0c0" />
<rect x="1049" y="488" width="3" height="1" fill="#c0c0c0" />
<rect x="1055" y="488" width="3" height="1" fill="#c0c0c0" />
<rect x="1061" y="488" width="3" height="1" fill="#c0c0c0" />
<rect x="1067" y="488" width="3" height="1" fill="#c0c0c0" />
<rect x="1073" y="488" width="3" height="1" fill="#c0c0c0" />
<rect x="1079" y="488" width="3" height="1" fill="#c0c0c0" />
<rect x="1085" y="488" width="3" height="1" fill="#c0c0c0" />
<rect x="1091" y="488" width="3" height="1" fill="#c0c0c0" />
<rect x="1097" y="488" width="3" height="1" fill="#c0c0c0" />
<rect x="1103" y="488" width="3" height="1" fill="#c0c0c0" />
<rect x="1109" y="488" width="3" height="1" fill="#c0c0c0" />
<rect x="1115" y="488" width="3" height="1" fill="#c0c0c0" />
<rect x="1121" y="488" width="3" height="1" fill="#c0c0c0" />
<rect x="1127" y="488" width="3" height="1" fill="#c0c0c0" />
<rect x="1133" y="488" width="3" height="1" fill="#c0c0c0" />
<rect x="1139" y="488" width="3" height="1" fill="#c0c0c0" />
<rect x="1145" y="488" width="3" height="1" fill="#c0c0c0" />
<rect x="1151" y="488" width="3" height="1" fill="#c0c0c0" />
<rect x="1157" y="488" width="3" height="1" fill="#c0c0c0" />
<rect x="1163" y="488" width="3" height="1" fill="#c0c0c0" />
<rect x="4" y="471" width="3" height="1" fill="#1e90ff" />
<rect x="7" y="470" width="5" height="1" fill="#1e90ff" />
<rect x="12" y="469" width="2" height="1" fill="#1e90ff" />
<rect x="14" y="468" width="3" height="1" fill="#1e90ff" />
<rect x="17" y="467" width="2" height="1" fill="#1e90ff" />
<rect x="19" y="466" width="8" height="1" fill="#1e90ff" />
<rect x="27" y="467" width="6" height="1" fill="#1e90ff" />
<rect x="33" y="468" width="5" height="1" fill="#1e90ff" />
<rect x="38" y="469" width="2" height="1" fill="#1e90ff" />
<rect x="40" y="470" width="3" height="1" fill="#1e90ff" />
<rect x="43" y="471" width="2" height="1" fill="#1e90ff" />
<rect x="45" y="472" width="3" height="1" fill="#1e90ff" />
<rect x="48" y="473" width="3" height="1" fill="#1e90ff" />
<rect x="51" y="474" width="36" height="1" fill="#1e90ff" />
<rect x="87" y="475" width="2" height="1" fill="#1e90ff" />
<rect x="89" y="476" width="2" height="1" fill="#1e90ff" />
<rect x="91" y="477" width="2" height="1" fill="#1e90ff" />
<rect x="93" y="478" width="2" height="1" fill="#1e90ff" />
<rect x="95" y="477" width="3" height="1" fill="#1e90ff" />
<rect x="98" y="476" width="4" height="1" fill="#1e90ff" />
<rect x="102" y="477" width="2" height="1" fill="#1e90ff" />
<rect x="104" y="478" width="2" height="1" fill="#1e90ff" />
<rect x="106" y="479" width="2" height="1" fill="#1e90ff" />
<rect x="108" y="480" width="6" height="1" fill="#1e90ff" />
<rect x="114" y="481" width="7" height="1" fill="#1e90ff" />
<rect x="121" y="482" width="15" height="1" fill="#1e90ff" />
<rect x="136" y="483" width="2" height="1" fill="#1e90ff" />
<rect x="138" y="484" width="3" height="1" fill="#1e90ff" />
<rect x="141" y="485" width="2" height="1" fill="#1e90ff" />
<rect x="143" y="484" width="6" height="1" fill="#1e90ff" />
<rect x="149" y="483" width="1" height="1" fill="#1e90ff" />
<rect x="150" y="482" width="1" height="1" fill="#1e90ff" />
<rect x="151" y="481" width="2" height="1" fill="#1e90ff" />
<rect x="153" y="480" width="1" height="1" fill="#1e90ff" />
<rect x="154" y="479" width="1" height="1" fill="#1e90ff" />
<rect x="155" y="478" width="2" height="1" fill="#1e90ff" />
<rect x="157" y="477" width="2" height="1" fill="#1e90ff" />
<rect x="159" y="478" width="3" height="1" fill="#1e90ff" />
<rect x="162" y="479" width="2" height="1" fill="#1e90ff" />
<rect x="164" y="480" width="4" height="1" fill="#1e90ff" />
<rect x="168" y="479" width="7" height="1" fill="#1e90ff" />
<rect x="175" y="478" width="6" height="1" fill="#1e90ff" />
<rect x="181" y="479" width="3" height="1" fill="#1e90ff" />
<rect x="184" y="480" width="2" height="1" fill="#1e90ff" />
<rect x="186" y="481" width="3" height="1" fill="#1e90ff" />
<rect x="189" y="482" width="2" height="1" fill="#1e90ff" />
<rect x="191" y="483" width="3" height="1" fill="#1e90ff" />
<rect x="194" y="484" width="2" height="1" fill="#1e90ff" />
<rect x="196" y="485" width="2" height="1" fill="#1e90ff" />
<rect x="198" y="484" width="2" height="1" fill="#1e90ff" />
<rect x="200" y="483" width="2" height="1" fill="#1e90ff" />
<rect x="202" y="482" width="2" height="1" fill="#1e90ff" />
<rect x="204" y="481" width="1" height="1" fill="#1e90ff" />
<rect x="205" y="480" width="2" height="1" fill="#1e90ff" />
<rect x="207" y="479" width="2" height="1" fill="#1e90ff" />
<rect x="209" y="478" width="2" height="1" fill="#1e90ff" />
<rect x="211" y="477" width="5" height="1" fill="#1e90ff" />
<rect x="216" y="476" width="6" height="1" fill="#1e90ff" />
<rect x="222" y="475" width="21" height="1" fill="#1e90ff" />
<rect x="243" y="476" width="3" height="1" fill="#1e90ff" />
<rect x="246" y="475" width="2" height="1" fill="#1e90ff" />
<rect x="248" y="474" width="3" height="1" fill="#1e90ff" />
<rect x="251" y="473" width="13" height="1" fill="#1e90ff" />
<rect x="264" y="474" width="3" height="1" fill="#1e90ff" />
<rect x="267" y="475" width="2" height="1" fill="#1e90ff" />
<rect x="269" y="474" width="2" height="1" fill="#1e90ff" />
<rect x="271" y="473" width="1" height="1" fill="#1e90ff" />
<rect x="272" y="472" width="2" height="1" fill="#1e90ff" />
<rect x="274" y="471" width="2" height="1" fill="#1e90ff" />
<rect x="276" y="470" width="4" height="1" fill="#1e90ff" />
<rect x="280" y="471" width="3" height="1" fill="#1e90ff" />
<rect x="283" y="472" width="2" height="1" fill="#1e90ff" />
<rect x="285" y="471" width="2" height="1" fill="#1e90ff" />
<rect x="287" y="470" width="2" height="1" fill="#1e90ff" />
<rect x="289" y="469" width="3" height="1" fill="#1e90ff" />
<rect x="292" y="468" width="2" height="1" fill="#1e90ff" />
<rect x="294" y="467" width="3" height="1" fill="#1e90ff" />
<rect x="297" y="466" width="15" height="1" fill="#1e90ff" />
<rect x="312" y="465" width="8" height="1" fill="#1e90ff" />
<rect x="320" y="466" width="3" height="1" fill="#1e90ff" />
<rect x="323" y="467" width="1" height="1" fill="#1e90ff" />
<rect x="324" y="466" width="3" height="1" fill="#1e90ff" />
<rect x="327" y="465" width="2" height="1" fill="#1e90ff" />
<rect x="329" y="464" width="2" height="1" fill="#1e90ff" />
<rect x="331" y="463" width="3" height="1" fill="#1e90ff" />
<rect x="334" y="462" width="3" height="1" fill="#1e90ff" />
<rect x="337" y="461" width="5" height="1" fill="#1e90ff" />
<rect x="342" y="462" width="2" height="1" fill="#1e90ff" />
<rect x="344" y="463" width="1" height="1" fill="#1e90ff" />
<rect x="345" y="464" width="2" height="1" fill="#1e90ff" />
<rect x="347" y="465" width="1" height="1" fill="#1e90ff" />
<rect x="348" y="466" width="1" height="1" fill="#1e90ff" />
<rect x="349" y="467" width="12" height="1" fill="#1e90ff" />
<rect x="361" y="466" width="6" height="1" fill="#1e90ff" />
<rect x="367" y="465" width="7" height="1" fill="#1e90ff" />
<rect x="374" y="464" width="11" height="1" fill="#1e90ff" />
<rect x="385" y="465" width="4" height="1" fill="#1e90ff" />
<rect x="389" y="464" width="6" height="1" fill="#1e90ff" />
<rect x="395" y="463" width="8" height="1" fill="#1e90ff" />
<rect x="403" y="464" width="5" height="1" fill="#1e90ff" />
<rect x="408" y="465" width="14" height="1" fill="#1e90ff" />
<rect x="422" y="466" width="1" height="1" fill="#1e90ff" />
<rect x="423" y="467" width="1" height="1" fill="#1e90ff" />
<rect x="423" y="467" width="1" height="2" fill="#1e90ff" />
<rect x="424" y="469" width="1" height="1" fill="#1e90ff" />
<rect x="424" y="469" width="1" height="1" fill="#1e90ff" />
<rect x="425" y="470" width="1" height="1" fill="#1e90ff" />
<rect x="426" y="471" width="1" height="1" fill="#1e90ff" />
<rect x="426" y="471" width="1" height="2" fill="#1e90ff" />
<rect x="427" y="473" width="1" height="1" fill="#1e90ff" />
<rect x="427" y="473" width="1" height="1" fill="#1e90ff" />
<rect x="428" y="474" width="1" height="1" fill="#1e90ff" />
<rect x="429" y="475" width="1" height="1" fill="#1e90ff" />
<rect x="430" y="474" width="2" height="1" fill="#1e90ff" />
<rect x="432" y="473" width="3" height="1" fill="#1e90ff" />
<rect x="435" y="472" width="2" height="1" fill="#1e90ff" />
<rect x="437" y="473" width="2" height="1" fill="#1e90ff" />
<rect x="439" y="474" width="1" height="1" fill="#1e90ff" />
<rect x="440" y="475" width="2" height="1" fill="#1e90ff" />
<rect x="442" y="476" width="1" height="1" fill="#1e90ff" />
<rect x="443" y="477" width="2" height="1" fill="#1e90ff" />
<rect x="445" y="478" width="4" height="1" fill="#1e90ff" />
<rect x="449" y="479" width="14" height="1" fill="#1e90ff" />
<rect x="463" y="478" width="3" height="1" fill="#1e90ff" />
<rect x="466" y="477" width="4" height="1" fill="#1e90ff" />
<rect x="470" y="478" width="3" height="1" fill="#1e90ff" />
<rect x="473" y="479" width="3" height="1" fill="#1e90ff" />
<rect x="476" y="480" width="2" height="1" fill="#1e90ff" />
<rect x="478" y="481" width="3" height="1" fill="#1e90ff" />
<rect x="481" y="482" width="3" height="1" fill="#1e90ff" />
<rect x="484" y="483" width="2" height="1" fill="#1e90ff" />
<rect x="486" y="484" width="3" height="1" fill="#1e90ff" />
<rect x="489" y="485" width="2" height="1" fill="#1e90ff" />
<rect x="491" y="486" width="2" height="1" fill="#1e90ff" />
<rect x="493" y="485" width="2" height="1" fill="#1e90ff" />
<rect x="495" y="484" width="2" height="1" fill="#1e90ff" />
<rect x="497" y="483" width="2" height="1" fill="#1e90ff" />
<rect x="499" y="482" width="4" height="1" fill="#1e90ff" />
<rect x="503" y="481" width="9" height="1" fill="#1e90ff" />
<rect x="512" y="480" width="6" height="1" fill="#1e90ff" />
<rect x="518" y="481" width="3" height="1" fill="#1e90ff" />
<rect x="521" y="482" width="3" height="1" fill="#1e90ff" />
<rect x="524" y="483" width="3" height="1" fill="#1e90ff" />
<rect x="527" y="484" width="5" height="1" fill="#1e90ff" />
<rect x="532" y="485" width="4" height="1" fill="#1e90ff" />
<rect x="536" y="484" width="7" height="1" fill="#1e90ff" />
<rect x="543" y="485" width="2" height="1" fill="#1e90ff" />
<rect x="545" y="486" width="2" height="1" fill="#1e90ff" />
<rect x="547" y="487" width="25" height="1" fill="#1e90ff" />
<rect x="572" y="488" width="6" height="1" fill="#1e90ff" />
<rect x="578" y="489" width="5" height="1" fill="#1e90ff" />
<rect x="583" y="490" width="4" height="1" fill="#1e90ff" />
<rect x="587" y="491" width="4" height="1" fill="#1e90ff" />
<rect x="591" y="492" width="4" height="1" fill="#1e90ff" />
<rect x="595" y="493" width="2" height="1" fill="#1e90ff" />
<rect x="597" y="492" width="3" height="1" fill="#1e90ff" />
<rect x="600" y="491" width="2" height="1" fill="#1e90ff" />
<rect x="602" y="490" width="4" height="1" fill="#1e90ff" />
<rect x="606" y="489" width="7" height="1" fill="#1e90ff" />
<rect x="613" y="488" width="1" height="1" fill="#1e90ff" />
<rect x="614" y="489" width="6" height="1" fill="#1e90ff" />
<rect x="620" y="490" width="7" height="1" fill="#1e90ff" />
<rect x="627" y="491" width="8" height="1" fill="#1e90ff" />
<rect x="635" y="492" width="3" height="1" fill="#1e90ff" />
<rect x="638" y="493" width="2" height="1" fill="#1e90ff" />
<rect x="640" y="494" width="2" height="1" fill="#1e90ff" />
<rect x="642" y="495" width="3" height="1" fill="#1e90ff" />
<rect x="645" y="496" width="1" height="1" fill="#1e90ff" />
<rect x="646" y="495" width="2" height="1" fill="#1e90ff" />
<rect x="648" y="494" width="3" height="1" fill="#1e90ff" />
<rect x="651" y="493" width="2" height="1" fill="#1e90ff" />
<rect x="653" y="492" width="2" height="1" fill="#1e90ff" />
<rect x="655" y="491" width="2" height="1" fill="#1e90ff" />
<rect x="657" y="490" width="2" height="1" fill="#1e90ff" />
<rect x="659" y="489" width="2" height="1" fill="#1e90ff" />
<rect x="661" y="488" width="1" height="1" fill="#1e90ff" />
<rect x="662" y="487" width="1" height="1" fill="#1e90ff" />
<rect x="663" y="486" width="1" height="1" fill="#1e90ff" />
<rect x="664" y="485" width="1" height="1" fill="#1e90ff" />
<rect x="665" y="484" width="1" height="1" fill="#1e90ff" />
<rect x="666" y="483" width="1" height="1" fill="#1e90ff" />
<rect x="667" y="482" width="1" height="1" fill="#1e90ff" />
<rect x="668" y="481" width="1" height="1" fill="#1e90ff" />
<rect x="669" y="480" width="2" height="1" fill="#1e90ff" />
<rect x="671" y="479" width="2" height="1" fill="#1e90ff" />
<rect x="673" y="478" width="3" height="1" fill="#1e90ff" />
<rect x="676" y="477" width="4" height="1" fill="#1e90ff" />
<rect x="680" y="478" width="4" height="1" fill="#1e90ff" />
<rect x="684" y="479" width="3" height="1" fill="#1e90ff" />
<rect x="687" y="478" width="3" height="1" fill="#1e90ff" />
<rect x="690" y="477" width="13" height="1" fill="#1e90ff" />
<rect x="703" y="478" width="2" height="1" fill="#1e90ff" />
<rect x="705" y="479" width="3" height="1" fill="#1e90ff" />
<rect x="708" y="480" width="3" height="1" fill="#1e90ff" />
<rect x="711" y="481" width="4" height="1" fill="#1e90ff" />
<rect x="715" y="482" width="2" height="1" fill="#1e90ff" />
<rect x="717" y="481" width="1" height="1" fill="#1e90ff" />
<rect x="718" y="480" width="2" height="1" fill="#1e90ff" />
<rect x="720" y="479" width="1" height="1" fill="#1e90ff" />
<rect x="721" y="478" width="2" height="1" fill="#1e90ff" />
<rect x="723" y="477" width="1" height="1" fill="#1e90ff" />
<rect x="724" y="476" width="11" height="1" fill="#1e90ff" />
<rect x="735" y="477" width="2" height="1" fill="#1e90ff" />
<rect x="737" y="478" width="2" height="1" fill="#1e90ff" />
<rect x="739" y="479" width="5" height="1" fill="#1e90ff" />
<rect x="744" y="480" width="15" height="1" fill="#1e90ff" />
<rect x="759" y="479" width="2" height="1" fill="#1e90ff" />
<rect x="761" y="478" width="2" height="1" fill="#1e90ff" />
<rect x="763" y="477" width="2" height="1" fill="#1e90ff" />
<rect x="765" y="476" width="2" height="1" fill="#1e90ff" />
<rect x="767" y="475" width="2" height="1" fill="#1e90ff" />
<rect x="769" y="474" width="1" height="1" fill="#1e90ff" />
<rect x="770" y="473" width="2" height="1" fill="#1e90ff" />
<rect x="772" y="472" width="2" height="1" fill="#1e90ff" />
<rect x="774" y="471" width="27" height="1" fill="#1e90ff" />
<rect x="801" y="470" width="9" height="1" fill="#1e90ff" />
<rect x="810" y="471" width="3" height="1" fill="#1e90ff" />
<rect x="813" y="470" width="4" height="1" fill="#1e90ff" />
<rect x="817" y="469" width="8" height="1" fill="#1e90ff" />
<rect x="825" y="470" width="5" height="1" fill="#1e90ff" />
<rect x="830" y="469" width="4" height="1" fill="#1e90ff" />
<rect x="834" y="468" width="11" height="1" fill="#1e90ff" />
<rect x="845" y="469" width="1" height="1" fill="#1e90ff" />
<rect x="846" y="470" width="1" height="1" fill="#1e90ff" />
<rect x="847" y="471" width="1" height="1" fill="#1e90ff" />
<rect x="848" y="472" width="2" height="1" fill="#1e90ff" />
<rect x="850" y="473" width="1" height="1" fill="#1e90ff" />
<rect x="851" y="474" width="1" height="1" fill="#1e90ff" />
<rect x="852" y="475" width="1" height="1" fill="#1e90ff" />
<rect x="853" y="476" width="2" height="1" fill="#1e90ff" />
<rect x="855" y="475" width="2" height="1" fill="#1e90ff" />
<rect x="857" y="474" width="3" height="1" fill="#1e90ff" />
<rect x="860" y="473" width="5" height="1" fill="#1e90ff" />
<rect x="865" y="474" width="5" height="1" fill="#1e90ff" />
<rect x="870" y="475" width="1" height="1" fill="#1e90ff" />
<rect x="871" y="476" width="2" height="1" fill="#1e90ff" />
<rect x="873" y="477" width="2" height="1" fill="#1e90ff" />
<rect x="875" y="478" width="2" height="1" fill="#1e90ff" />
<rect x="877" y="479" width="2" height="1" fill="#1e90ff" />
<rect x="879" y="478" width="3" height="1" fill="#1e90ff" />
<rect x="882" y="477" width="7" height="1" fill="#1e90ff" />
<rect x="889" y="478" width="13" height="1" fill="#1e90ff" />
<rect x="902" y="477" width="3" height="1" fill="#1e90ff" />
<rect x="905" y="476" width="2" height="1" fill="#1e90ff" />
<rect x="907" y="475" width="10" height="1" fill="#1e90ff" />
<rect x="3" y="24" width="1164" height="1" fill="#000" />
<rect x="3" y="374" width="1164" height="1" fill="#000" />
<rect x="3" y="24" width="1" height="351" fill="#000" />
<rect x="1166" y="24" width="1" height="351" fill="#000" />
<rect x="3" y="376" width="1164" height="1" fill="#000" />
<rect x="3" y="440" width="1164" height="1" fill="#000" />
<rect x="3" y="376" width="1" height="65" fill="#000" />
<rect x="1166" y="376" width="1" height="65" fill="#000" />
<rect x="3" y="442" width="1164" height="1" fill="#000" />
<rect x="3" y="508" width="1164" height="1" fill="#000" />
<rect x="3" y="442" width="1" height="67" fill="#000" />
<rect x="1166" y="442" width="1" height="67" fill="#000" />
<rect x="1167" y="74" width="2" height="1" fill="#000" />
<rect x="1167" y="107" width="2" height="1" fill="#000" />
<rect x="1167" y="140" width="2" height="1" fill="#000" />
<rect x="1167" y="173" width="2" height="1" fill="#000" />
<rect x="1167" y="206" width="2" height="1" fill="#000" />
<rect x="1167" y="239" width="2" height="1" fill="#000" />
<rect x="1167" y="272" width="2" height="1" fill="#000" />
<rect x="1167" y="305" width="2" height="1" fill="#000" />
<rect x="1167" y="338" width="2" height="1" fill="#000" />
<rect x="1167" y="378" width="1" height="1" fill="#000" />
<rect x="1167" y="402" width="1" height="1" fill="#000" />
<rect x="1167" y="439" width="1" height="1" fill="#000" />
<rect x="1167" y="444" width="1" height="1" fill="#000" />
<rect x="1167" y="507" width="1" height="1" fill="#000" />
<rect x="4" y="509" width="1" height="3" fill="#000" />
<rect x="68" y="509" width="1" height="3" fill="#000" />
<rect x="132" y="509" width="1" height="3" fill="#000" />
<rect x="196" y="509" width="1" height="3" fill="#000" />
<rect x="260" y="509" width="1" height="3" fill="#000" />
<rect x="324" y="509" width="1" height="3" fill="#000" />
<rect x="388" y="509" width="1" height="3" fill="#000" />
<rect x="452" y="509" width="1" height="3" fill="#000" />
<rect x="516" y="509" width="1" height="3" fill="#000" />
<rect x="580" y="509" width="1" height="3" fill="#000" />
<rect x="644" y="509" width="1" height="3" fill="#000" />
<rect x="708" y="509" width="1" height="3" fill="#000" />
<rect x="772" y="509" width="1" height="3" fill="#000" />
<rect x="836" y="509" width="1" height="3" fill="#000" />
<rect x="900" y="509" width="1" height="3" fill="#000" />
<rect x="0" y="529" width="1208" height="1" fill="#e8e8e8" />
<rect x="0" y="530" width="1208" height="1" fill="#ffffff" />
<rect x="0" y="531" width="1208" height="1" fill="#000000" />
<rect x="0" y="532" width="1208" height="18" fill="#f0f0f0" />
<rect x="0" y="532" width="1" height="18" fill="#696969" />
<rect x="0" y="550" width="1208" height="1" fill="#f0f0f0" />
<rect x="0" y="551" width="1208" height="1" fill="#fcfcfc" />
<rect x="0" y="552" width="1208" height="3" fill="#f2f2f2" />
<rect x="0" y="555" width="1208" height="1" fill="#b4b4b4" />
<rect x="0" y="556" width="1208" height="2" fill="#f4f4f4" />
<rect x="213" y="531" width="108" height="19" fill="#000000" />
<rect x="214" y="530" width="106" height="19" fill="#ffffff" />
<rect x="105" y="534" width="1" height="14" fill="#505050" />
<rect x="417" y="534" width="1" height="14" fill="#505050" />
<rect x="526" y="534" width="1" height="14" fill="#505050" />
<rect x="638" y="534" width="1" height="14" fill="#505050" />
<rect x="733" y="534" width="1" height="14" fill="#505050" />
<rect x="825" y="534" width="1" height="14" fill="#505050" />
<rect x="913" y="534" width="1" height="14" fill="#505050" />
<rect x="998" y="534" width="1" height="14" fill="#505050" />
</svg>
<svg style="position:absolute;left:7px;top:30px" width="8" height="6"><polygon points="0.1,5.1 3.55,0.8 7,5.1" fill="#000"/></svg>
<div class="t s" style="left:20px;top:29px;letter-spacing:-0.12px">AUDUSD-,Daily</div>
<div class="t s" style="left:93.8px;top:29px;letter-spacing:-0.28px">0.72086 0.72099 0.72083 0.72085</div>
<div style="position:absolute;left:7px;top:44px;width:219px;height:57px;">
<div style="position:absolute;left:0;top:0;width:52px;height:24px;background:linear-gradient(#f65252,#dc3030);box-shadow:inset 1px 1px 0 rgba(150,0,0,0.55),inset -1px 0 0 rgba(150,0,0,0.55)"></div>
<div style="position:absolute;left:167px;top:0;width:52px;height:24px;background:linear-gradient(#f65252,#dc3030);box-shadow:inset 1px 1px 0 rgba(150,0,0,0.55),inset -1px 0 0 rgba(150,0,0,0.55)"></div>
<div style="position:absolute;left:0;top:24px;width:109px;height:33px;background:linear-gradient(#d92b2b,#ac0606);box-shadow:inset 1px -1px 0 rgba(150,0,0,0.55),inset -1px 0 0 rgba(150,0,0,0.55)"></div>
<div style="position:absolute;left:111px;top:24px;width:108px;height:33px;background:linear-gradient(#d92b2b,#ac0606);box-shadow:inset 1px -1px 0 rgba(150,0,0,0.55),inset -1px 0 0 rgba(150,0,0,0.55)"></div>
<div style="position:absolute;left:52px;top:24px;width:57px;height:1px;background:rgba(150,0,0,0.55)"></div>
<div style="position:absolute;left:111px;top:24px;width:56px;height:1px;background:rgba(150,0,0,0.55)"></div>
<div style="position:absolute;left:4px;top:24px;width:44px;height:1px;background:#9c0c0c"></div>
<div style="position:absolute;left:171px;top:24px;width:44px;height:1px;background:#9c0c0c"></div>
<div style="position:absolute;left:54px;top:0;width:111px;height:22px;border:1px solid #aaaab2;background:#fff;box-sizing:border-box"></div>
<div style="position:absolute;left:75px;top:1px;width:1px;height:20px;background:#aaaab2"></div>
<div style="position:absolute;left:143px;top:1px;width:1px;height:20px;background:#aaaab2"></div>
<div style="position:absolute;left:56px;top:2px;width:18px;height:18px;background:linear-gradient(#f3f3f3 0,#ececec 45%,#dadada 46%,#d4d4d4 100%)"></div>
<div style="position:absolute;left:145px;top:2px;width:18px;height:18px;background:linear-gradient(#f3f3f3 0,#ececec 45%,#dadada 46%,#d4d4d4 100%)"></div>
<svg style="position:absolute;left:61px;top:8px" width="8" height="5"><polygon points="0.6,1 6.4,1 3.5,4.3" fill="#4a62c4"/></svg>
<svg style="position:absolute;left:150px;top:8px" width="8" height="5"><polygon points="0.8,4.2 6.4,4.2 3.6,1" fill="#4a62c4"/></svg>
<div class="t" style="left:116px;top:6px;font-size:12px;color:#000">3.00</div>
<div class="t" style="left:12px;top:6px;font-size:12px;color:#fff;letter-spacing:-0.9px">SELL</div>
<div class="t" style="left:180px;top:6px;font-size:12px;color:#fff;letter-spacing:-0.5px">BUY</div>
<div class="t" style="left:20px;top:42px;font-size:12px;font-weight:bold;color:#fff">0.72</div>
<div class="t" style="left:130px;top:42px;font-size:12px;font-weight:bold;color:#fff">0.72</div>
<div class="t" style="left:47.5px;top:21.7px;font-size:36px;color:#fff;font-family:'Liberation Serif',serif;letter-spacing:-1px">08</div>
<div class="t" style="left:158.5px;top:21.7px;font-size:36px;color:#fff;font-family:'Liberation Serif',serif;letter-spacing:-1px">10</div>
<div class="t" style="left:87px;top:26px;font-size:12px;font-weight:bold;color:#fff">5</div>
<div class="t" style="left:198px;top:27px;font-size:12px;font-weight:bold;color:#fff">6</div>
</div>
<div class="t s" style="left:8px;top:381.5px;letter-spacing:-0.24px">MACD(12,26,9) 0.000218 0.000842</div>
<div class="t s" style="left:8px;top:448px;letter-spacing:-0.31px">RSI(14) 51.3006</div>
<div class="t s ax" style="top:71px">0.74995</div>
<div class="t s ax" style="top:104px">0.74425</div>
<div class="t s ax" style="top:137px">0.73855</div>
<div class="t s ax" style="top:170px">0.73285</div>
<div class="t s ax" style="top:203px">0.72715</div>
<div class="t s ax" style="top:236px">0.72145</div>
<div class="t s ax" style="top:269px">0.71575</div>
<div class="t s ax" style="top:302px">0.71005</div>
<div class="t s ax" style="top:335px">0.70435</div>
<div class="t s" style="left:1170px;top:381px">0.006201</div>
<div class="t s" style="left:1170px;top:399px">0.00</div>
<div class="t s" style="left:1170px;top:430px">-0.009197</div>
<div class="t s" style="left:1170px;top:446px">100</div>
<div class="t s" style="left:1169px;top:460px">70</div>
<div class="t s" style="left:1169px;top:485px">30</div>
<div class="t s" style="left:1170px;top:498px">0</div>
<div class="lab" style="top:38px;background:#ff0000"><span>0.75512</span></div>
<div class="lab" style="top:125px;background:#ff0000"><span>0.74002</span></div>
<div class="lab" style="top:217px;background:#00ff00"><span>0.72412</span></div>
<div class="lab" style="top:237px;background:#000000"><span>0.72085</span></div>
<div class="lab" style="top:298px;background:#0000cd"><span>0.71013</span></div>
<div class="lab" style="top:364px;background:#0000ff"><span>0.69884</span></div>
<div class="t s" style="left:4px;top:514px">1 Sep 2021</div>
<div class="t s" style="left:68px;top:514px">10 Sep 2021</div>
<div class="t s" style="left:132px;top:514px">20 Sep 2021</div>
<div class="t s" style="left:196px;top:514px">29 Sep 2021</div>
<div class="t s" style="left:260px;top:514px">8 Oct 2021</div>
<div class="t s" style="left:324px;top:514px">18 Oct 2021</div>
<div class="t s" style="left:388px;top:514px">27 Oct 2021</div>
<div class="t s" style="left:452px;top:514px;letter-spacing:-0.25px">5 Nov 2021</div>
<div class="t s" style="left:516px;top:514px;letter-spacing:-0.25px">15 Nov 2021</div>
<div class="t s" style="left:580px;top:514px;letter-spacing:-0.25px">24 Nov 2021</div>
<div class="t s" style="left:644px;top:514px">3 Dec 2021</div>
<div class="t s" style="left:708px;top:514px">13 Dec 2021</div>
<div class="t s" style="left:772px;top:514px">22 Dec 2021</div>
<div class="t s" style="left:836px;top:514px">31 Dec 2021</div>
<div class="t s" style="left:900px;top:514px">10 Jan 2022</div>
<div class="t tab" style="left:16.5px;letter-spacing:0px">USDX,Weekly</div>
<div class="t tab" style="left:116px;letter-spacing:-0.15px">EURUSD-,Daily</div>
<div class="t tab" style="left:223.2px;letter-spacing:0px;color:#000">AUDUSD-,Daily</div>
<div class="t tab" style="left:333.3px;letter-spacing:-0.3px">USDCHF-,H4</div>
<div class="t tab" style="left:428px;letter-spacing:0px">USDCAD-,Daily</div>
<div class="t tab" style="left:537.5px;letter-spacing:0px">USDCNH-,Daily</div>
<div class="t tab" style="left:648.3px;letter-spacing:-0.16px">XAUUSD-,H1</div>
<div class="t tab" style="left:744.4px;letter-spacing:0.12px">UKOil-,Daily</div>
<div class="t tab" style="left:837px;letter-spacing:0px">DJ30-,Daily</div>
<div class="t tab" style="left:924.5px;letter-spacing:0px">UK100-,H1</div>
<svg style="position:absolute;left:1180px;top:536px" width="28" height="9"><polygon points="5.3,1 5.3,7.2 1.7,4.1" fill="#9a9a9a"/><polygon points="20.8,1 20.8,7.2 24.4,4.1" fill="#8a8a8a"/></svg>
</body></html>
